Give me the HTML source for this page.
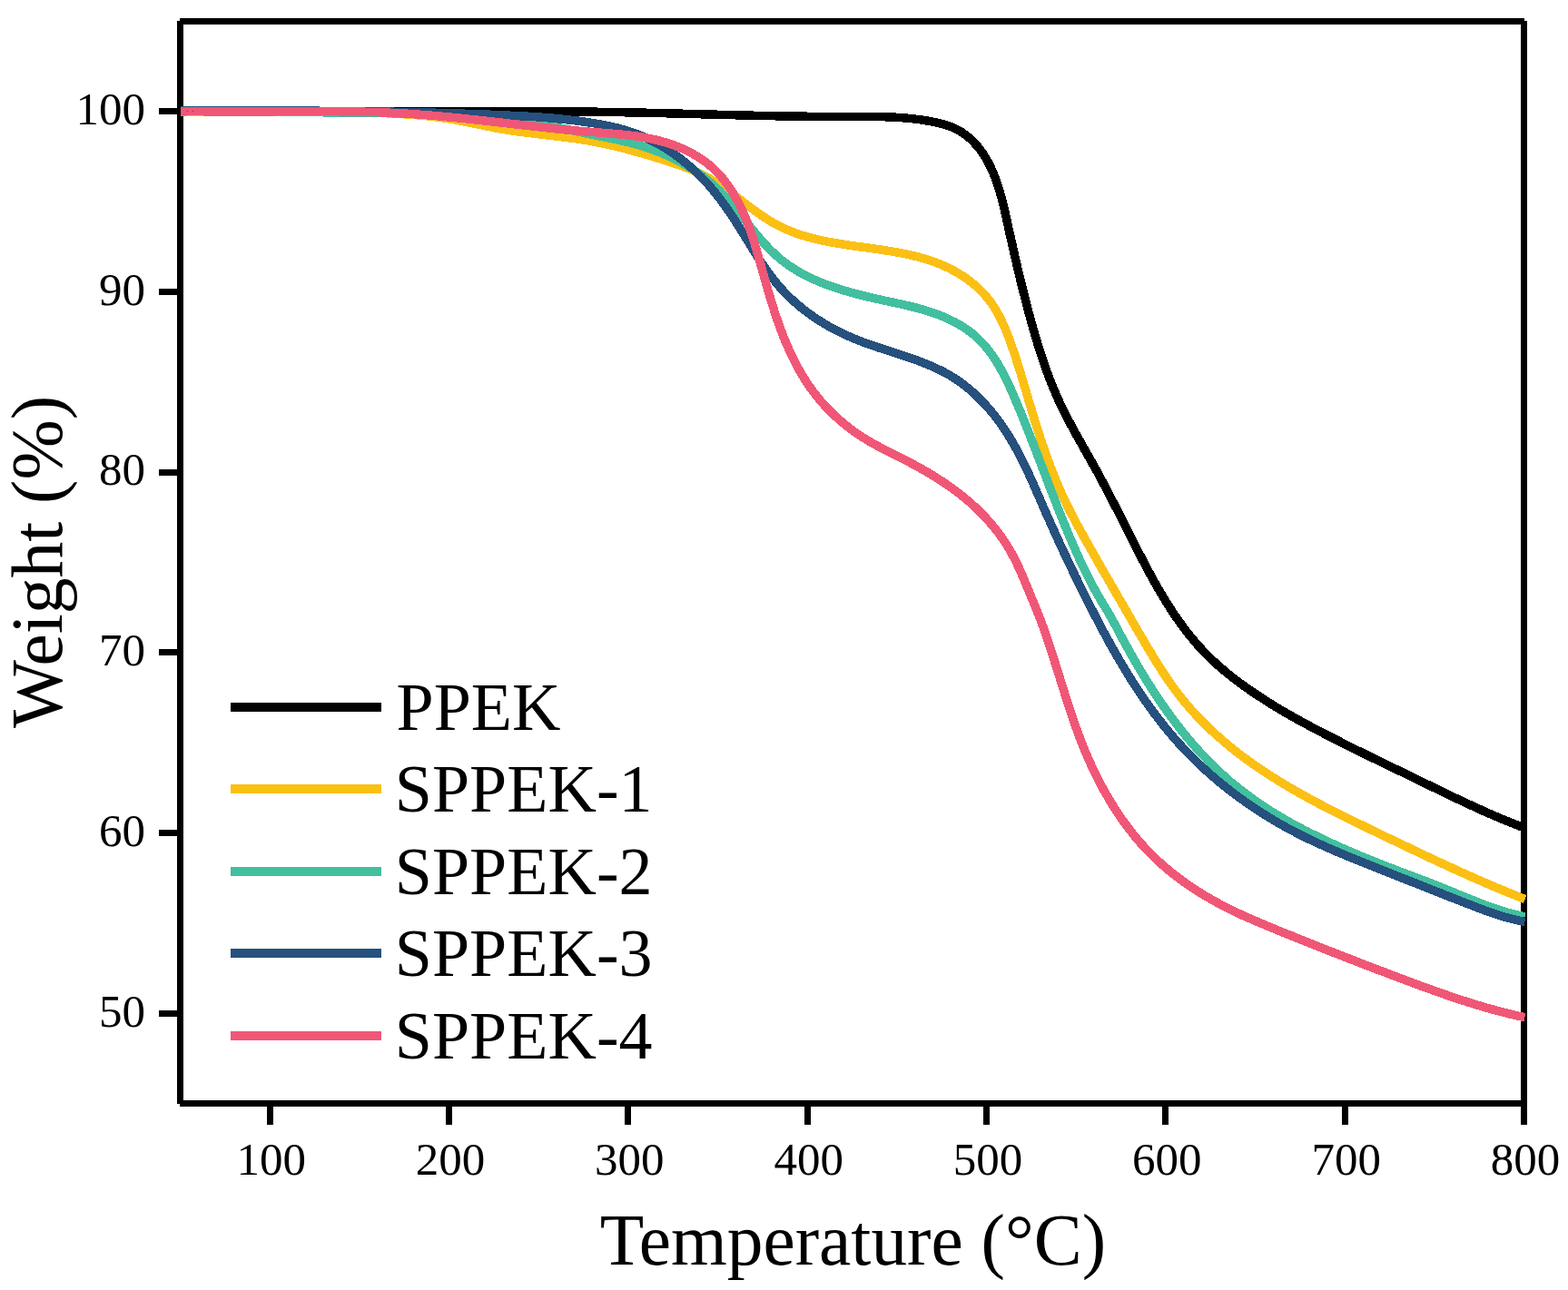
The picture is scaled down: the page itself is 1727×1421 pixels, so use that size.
<!DOCTYPE html>
<html><head><meta charset="utf-8"><title>TGA curves</title>
<style>
html,body{margin:0;padding:0;background:#fff;}
svg{display:block;}
text{font-family:"Liberation Serif",serif;fill:#000;}
</style></head>
<body>
<svg width="1727" height="1421" viewBox="0 0 1727 1421">
<rect width="1727" height="1421" fill="#fff"/>
<g stroke="#000" stroke-width="7" stroke-linecap="butt" shape-rendering="crispEdges">
<line x1="198.5" y1="23" x2="198.5" y2="1216" />
<line x1="1678.5" y1="23" x2="1678.5" y2="1216" />
<line x1="198" y1="23.5" x2="1679" y2="23.5" />
<line x1="198" y1="1215.5" x2="1679" y2="1215.5" />
<line x1="297.2" y1="1215.5" x2="297.2" y2="1239" />
<line x1="494.5" y1="1215.5" x2="494.5" y2="1239" />
<line x1="691.8" y1="1215.5" x2="691.8" y2="1239" />
<line x1="889.2" y1="1215.5" x2="889.2" y2="1239" />
<line x1="1086.5" y1="1215.5" x2="1086.5" y2="1239" />
<line x1="1283.8" y1="1215.5" x2="1283.8" y2="1239" />
<line x1="1481.2" y1="1215.5" x2="1481.2" y2="1239" />
<line x1="1678.5" y1="1215.5" x2="1678.5" y2="1239" />
<line x1="175" y1="1116.5" x2="198.5" y2="1116.5" />
<line x1="175" y1="917.7" x2="198.5" y2="917.7" />
<line x1="175" y1="718.9" x2="198.5" y2="718.9" />
<line x1="175" y1="520.1" x2="198.5" y2="520.1" />
<line x1="175" y1="321.3" x2="198.5" y2="321.3" />
<line x1="175" y1="122.5" x2="198.5" y2="122.5" />
</g>
<g>
<path d="M198.5,122.4 L200.5,122.4 L202.5,122.4 L204.5,122.4 L206.5,122.4 L208.5,122.5 L210.5,122.5 L212.5,122.5 L214.5,122.5 L216.5,122.5 L218.5,122.6 L220.5,122.6 L222.5,122.6 L224.5,122.6 L226.5,122.6 L228.5,122.6 L230.5,122.6 L232.5,122.7 L234.5,122.7 L236.5,122.7 L238.5,122.7 L240.5,122.7 L242.5,122.7 L244.5,122.7 L246.5,122.8 L248.5,122.8 L250.5,122.8 L252.6,122.8 L254.6,122.8 L256.6,122.8 L258.6,122.8 L260.6,122.8 L262.6,122.8 L264.6,122.8 L266.6,122.8 L268.6,122.8 L270.6,122.9 L272.6,122.9 L274.6,122.9 L276.6,122.9 L278.6,122.9 L280.6,122.9 L282.6,122.9 L284.6,122.9 L286.6,122.9 L288.6,122.9 L290.6,122.9 L292.6,122.9 L294.6,122.9 L296.6,122.9 L298.6,122.9 L300.6,122.9 L302.6,122.9 L304.6,122.9 L306.6,122.9 L308.6,122.9 L310.6,122.9 L312.6,122.9 L314.6,122.9 L316.6,122.9 L318.6,122.9 L320.6,122.9 L322.6,122.9 L324.6,122.9 L326.6,122.9 L328.6,122.9 L330.6,122.9 L332.6,122.9 L334.6,122.9 L336.6,122.9 L338.7,122.9 L340.7,122.9 L342.7,122.9 L344.7,122.9 L346.7,122.9 L348.7,122.9 L350.7,122.9 L352.7,122.9 L354.7,122.9 L356.7,122.9 L358.7,122.9 L360.7,122.9 L362.7,122.8 L364.7,122.8 L366.7,122.8 L368.7,122.8 L370.7,122.8 L372.7,122.8 L374.7,122.8 L376.7,122.8 L378.7,122.8 L380.7,122.8 L382.7,122.8 L384.7,122.8 L386.7,122.8 L388.7,122.8 L390.7,122.8 L392.7,122.8 L394.7,122.8 L396.7,122.7 L398.7,122.7 L400.7,122.7 L402.7,122.7 L404.8,122.7 L406.8,122.7 L408.8,122.7 L410.8,122.7 L412.8,122.7 L414.8,122.7 L416.8,122.7 L418.8,122.7 L420.8,122.7 L422.8,122.7 L424.8,122.6 L426.8,122.6 L428.8,122.6 L430.8,122.6 L432.8,122.6 L434.8,122.6 L436.8,122.6 L438.8,122.6 L440.8,122.6 L442.8,122.6 L444.8,122.6 L446.8,122.6 L448.8,122.6 L450.8,122.6 L452.8,122.6 L454.8,122.5 L456.8,122.5 L458.8,122.5 L460.8,122.5 L462.8,122.5 L464.9,122.5 L466.9,122.5 L468.9,122.5 L470.9,122.5 L472.9,122.5 L474.9,122.5 L476.9,122.5 L478.9,122.5 L480.9,122.5 L482.9,122.5 L484.9,122.5 L486.9,122.5 L488.9,122.5 L490.9,122.5 L492.9,122.5 L494.9,122.5 L496.9,122.4 L498.9,122.4 L500.9,122.4 L502.9,122.4 L504.9,122.4 L506.9,122.4 L508.9,122.4 L510.9,122.4 L512.9,122.4 L514.9,122.4 L516.9,122.4 L518.9,122.4 L520.9,122.4 L522.9,122.4 L524.9,122.4 L527.0,122.4 L529.0,122.4 L531.0,122.4 L533.0,122.4 L535.0,122.4 L537.0,122.4 L539.0,122.4 L541.0,122.4 L543.0,122.4 L545.0,122.4 L547.0,122.4 L549.0,122.4 L551.0,122.4 L553.0,122.5 L555.0,122.5 L557.0,122.5 L559.0,122.5 L561.0,122.5 L563.0,122.5 L565.0,122.5 L567.0,122.5 L569.0,122.5 L571.0,122.5 L573.0,122.5 L575.0,122.5 L577.0,122.5 L579.0,122.5 L581.0,122.5 L583.0,122.6 L585.0,122.6 L587.0,122.6 L589.0,122.6 L591.0,122.6 L593.0,122.6 L595.0,122.6 L597.1,122.6 L599.1,122.6 L601.1,122.7 L603.1,122.7 L605.1,122.7 L607.1,122.7 L609.1,122.7 L611.1,122.7 L613.1,122.7 L615.1,122.8 L617.1,122.8 L619.1,122.8 L621.1,122.8 L623.1,122.8 L625.1,122.9 L627.1,122.9 L629.1,122.9 L631.1,122.9 L633.1,122.9 L635.1,123.0 L637.1,123.0 L639.1,123.0 L641.1,123.0 L643.1,123.0 L645.1,123.1 L647.1,123.1 L649.1,123.1 L651.1,123.1 L653.1,123.2 L655.1,123.2 L657.1,123.2 L659.1,123.3 L661.1,123.3 L663.1,123.3 L665.1,123.3 L667.1,123.4 L669.1,123.4 L671.1,123.4 L673.1,123.5 L675.1,123.5 L677.1,123.5 L679.1,123.6 L681.1,123.6 L683.1,123.6 L685.1,123.7 L687.1,123.7 L689.1,123.8 L691.1,123.8 L693.1,123.8 L695.1,123.9 L697.1,123.9 L699.1,124.0 L701.1,124.0 L703.1,124.0 L705.1,124.1 L707.1,124.1 L709.1,124.2 L711.1,124.2 L713.1,124.3 L715.1,124.3 L717.1,124.3 L719.1,124.4 L721.1,124.4 L723.1,124.5 L725.1,124.5 L727.1,124.6 L729.1,124.6 L731.2,124.7 L733.2,124.7 L735.2,124.8 L737.2,124.8 L739.2,124.9 L741.2,124.9 L743.2,125.0 L745.2,125.0 L747.2,125.1 L749.2,125.2 L751.2,125.2 L753.2,125.3 L755.2,125.3 L757.2,125.4 L759.2,125.4 L761.2,125.5 L763.2,125.5 L765.2,125.6 L767.2,125.6 L769.2,125.7 L771.2,125.7 L773.2,125.8 L775.2,125.8 L777.2,125.9 L779.2,126.0 L781.2,126.0 L783.2,126.1 L785.2,126.1 L787.2,126.2 L789.2,126.2 L791.2,126.3 L793.2,126.3 L795.2,126.4 L797.2,126.4 L799.2,126.5 L801.2,126.5 L803.2,126.6 L805.2,126.6 L807.2,126.7 L809.2,126.7 L811.2,126.8 L813.2,126.8 L815.2,126.9 L817.2,126.9 L819.2,127.0 L821.2,127.0 L823.2,127.1 L825.2,127.1 L827.2,127.2 L829.2,127.2 L831.2,127.3 L833.2,127.3 L835.2,127.4 L837.2,127.4 L839.2,127.5 L841.2,127.5 L843.2,127.5 L845.2,127.6 L847.2,127.6 L849.2,127.7 L851.2,127.7 L853.2,127.7 L855.2,127.8 L857.2,127.8 L859.2,127.8 L861.2,127.9 L863.2,127.9 L865.2,127.9 L867.2,128.0 L869.2,128.0 L871.3,128.0 L873.3,128.1 L875.3,128.1 L877.3,128.1 L879.3,128.2 L881.3,128.2 L883.3,128.2 L885.3,128.2 L887.3,128.2 L889.3,128.3 L891.3,128.3 L893.3,128.3 L895.3,128.3 L897.3,128.3 L899.3,128.4 L901.3,128.4 L903.3,128.4 L905.3,128.4 L907.3,128.4 L909.3,128.4 L911.4,128.4 L913.4,128.4 L915.4,128.4 L917.4,128.4 L919.4,128.4 L921.4,128.4 L923.4,128.4 L925.4,128.4 L927.4,128.4 L929.4,128.4 L931.4,128.4 L933.4,128.4 L935.4,128.4 L937.5,128.4 L939.5,128.4 L941.5,128.4 L943.5,128.4 L945.5,128.4 L947.5,128.4 L949.5,128.4 L951.5,128.4 L953.5,128.4 L955.5,128.4 L957.5,128.4 L959.5,128.4 L961.5,128.4 L963.6,128.5 L965.6,128.5 L967.6,128.5 L969.6,128.6 L971.6,128.6 L973.6,128.7 L975.6,128.8 L977.6,128.8 L979.6,128.9 L981.6,129.0 L983.6,129.1 L985.6,129.2 L987.6,129.3 L989.6,129.4 L991.6,129.6 L993.6,129.7 L995.6,129.9 L997.6,130.0 L999.6,130.2 L1001.6,130.4 L1003.6,130.6 L1005.6,130.8 L1007.6,131.1 L1009.6,131.3 L1011.6,131.6 L1013.6,131.8 L1015.6,132.1 L1017.6,132.4 L1019.6,132.7 L1021.5,133.1 L1023.5,133.4 L1025.5,133.8 L1027.5,134.2 L1029.5,134.6 L1031.5,135.0 L1033.5,135.4 L1035.4,135.9 L1037.4,136.4 L1039.3,136.9 L1041.3,137.5 L1043.2,138.1 L1045.1,138.7 L1046.9,139.4 L1048.8,140.1 L1050.6,140.9 L1052.4,141.8 L1054.2,142.7 L1055.9,143.6 L1057.6,144.6 L1059.3,145.7 L1060.9,146.8 L1062.5,147.9 L1064.1,149.1 L1065.6,150.3 L1067.1,151.5 L1068.6,152.8 L1070.0,154.2 L1071.4,155.5 L1072.8,156.9 L1074.1,158.4 L1075.5,159.8 L1076.7,161.3 L1078.0,162.8 L1079.2,164.3 L1080.3,165.9 L1081.5,167.5 L1082.6,169.1 L1083.7,170.7 L1084.7,172.4 L1085.7,174.1 L1086.7,175.8 L1087.7,177.5 L1088.6,179.2 L1089.5,181.0 L1090.4,182.7 L1091.3,184.5 L1092.1,186.3 L1092.9,188.1 L1093.7,190.0 L1094.5,191.8 L1095.2,193.7 L1095.9,195.6 L1096.6,197.5 L1097.3,199.4 L1098.0,201.3 L1098.7,203.2 L1099.3,205.2 L1099.9,207.1 L1100.5,209.1 L1101.1,211.1 L1101.7,213.0 L1102.2,215.0 L1102.8,217.0 L1103.3,219.0 L1103.8,221.0 L1104.3,223.0 L1104.8,225.0 L1105.3,227.0 L1105.8,229.1 L1106.3,231.1 L1106.8,233.1 L1107.2,235.1 L1107.7,237.1 L1108.1,239.2 L1108.6,241.2 L1109.0,243.2 L1109.5,245.2 L1109.9,247.2 L1110.4,249.3 L1110.8,251.3 L1111.2,253.3 L1111.7,255.3 L1112.1,257.3 L1112.6,259.2 L1113.0,261.2 L1113.4,263.2 L1113.9,265.2 L1114.3,267.2 L1114.8,269.1 L1115.2,271.1 L1115.6,273.1 L1116.1,275.0 L1116.5,277.0 L1117.0,278.9 L1117.4,280.9 L1117.9,282.8 L1118.3,284.8 L1118.8,286.7 L1119.2,288.6 L1119.7,290.6 L1120.1,292.5 L1120.6,294.4 L1121.0,296.4 L1121.5,298.3 L1121.9,300.2 L1122.4,302.1 L1122.9,304.1 L1123.3,306.0 L1123.8,307.9 L1124.2,309.8 L1124.7,311.7 L1125.2,313.7 L1125.7,315.6 L1126.1,317.5 L1126.6,319.4 L1127.1,321.3 L1127.6,323.2 L1128.1,325.1 L1128.5,327.0 L1129.0,328.9 L1129.5,330.8 L1130.0,332.7 L1130.5,334.7 L1131.0,336.6 L1131.5,338.5 L1132.0,340.4 L1132.5,342.3 L1133.0,344.2 L1133.6,346.1 L1134.1,348.0 L1134.6,349.9 L1135.1,351.8 L1135.6,353.7 L1136.2,355.7 L1136.7,357.6 L1137.2,359.5 L1137.8,361.4 L1138.3,363.3 L1138.9,365.2 L1139.4,367.2 L1140.0,369.1 L1140.6,371.0 L1141.1,372.9 L1141.7,374.8 L1142.3,376.8 L1142.9,378.7 L1143.5,380.6 L1144.0,382.5 L1144.6,384.4 L1145.3,386.3 L1145.9,388.3 L1146.5,390.2 L1147.1,392.1 L1147.7,394.0 L1148.4,395.9 L1149.0,397.8 L1149.7,399.7 L1150.3,401.6 L1151.0,403.5 L1151.7,405.4 L1152.3,407.3 L1153.0,409.2 L1153.7,411.1 L1154.4,413.0 L1155.1,414.9 L1155.8,416.8 L1156.6,418.6 L1157.3,420.5 L1158.0,422.4 L1158.8,424.3 L1159.5,426.1 L1160.3,428.0 L1161.1,429.8 L1161.9,431.7 L1162.7,433.5 L1163.5,435.4 L1164.3,437.2 L1165.1,439.0 L1165.9,440.9 L1166.8,442.7 L1167.6,444.5 L1168.5,446.3 L1169.3,448.1 L1170.2,449.9 L1171.1,451.7 L1172.0,453.5 L1172.9,455.3 L1173.8,457.1 L1174.7,458.9 L1175.7,460.7 L1176.6,462.5 L1177.5,464.2 L1178.5,466.0 L1179.4,467.8 L1180.4,469.5 L1181.3,471.3 L1182.3,473.1 L1183.2,474.8 L1184.2,476.6 L1185.2,478.3 L1186.1,480.1 L1187.1,481.8 L1188.1,483.6 L1189.1,485.3 L1190.1,487.1 L1191.1,488.8 L1192.0,490.6 L1193.0,492.3 L1194.0,494.1 L1195.0,495.8 L1196.0,497.5 L1197.0,499.3 L1198.0,501.0 L1198.9,502.8 L1199.9,504.5 L1200.9,506.2 L1201.9,508.0 L1202.9,509.7 L1203.8,511.5 L1204.8,513.2 L1205.8,515.0 L1206.8,516.7 L1207.7,518.5 L1208.7,520.2 L1209.6,522.0 L1210.6,523.7 L1211.5,525.5 L1212.5,527.2 L1213.4,529.0 L1214.4,530.8 L1215.3,532.5 L1216.2,534.3 L1217.2,536.0 L1218.1,537.8 L1219.0,539.6 L1219.9,541.3 L1220.9,543.1 L1221.8,544.9 L1222.7,546.6 L1223.6,548.4 L1224.5,550.2 L1225.4,552.0 L1226.3,553.7 L1227.2,555.5 L1228.2,557.3 L1229.1,559.1 L1230.0,560.8 L1230.9,562.6 L1231.8,564.4 L1232.7,566.2 L1233.6,568.0 L1234.5,569.7 L1235.4,571.5 L1236.3,573.3 L1237.2,575.1 L1238.1,576.9 L1239.0,578.7 L1239.9,580.4 L1240.8,582.2 L1241.7,584.0 L1242.6,585.8 L1243.5,587.6 L1244.4,589.4 L1245.3,591.2 L1246.2,593.0 L1247.1,594.7 L1248.0,596.5 L1248.9,598.3 L1249.9,600.1 L1250.8,601.9 L1251.7,603.7 L1252.6,605.5 L1253.5,607.3 L1254.4,609.1 L1255.4,610.9 L1256.3,612.7 L1257.2,614.4 L1258.1,616.2 L1259.1,618.0 L1260.0,619.8 L1260.9,621.6 L1261.9,623.4 L1262.8,625.2 L1263.8,626.9 L1264.7,628.7 L1265.7,630.5 L1266.7,632.3 L1267.6,634.0 L1268.6,635.8 L1269.6,637.6 L1270.5,639.3 L1271.5,641.1 L1272.5,642.8 L1273.5,644.6 L1274.5,646.3 L1275.5,648.1 L1276.5,649.8 L1277.5,651.6 L1278.5,653.3 L1279.6,655.0 L1280.6,656.8 L1281.6,658.5 L1282.7,660.2 L1283.7,661.9 L1284.8,663.6 L1285.9,665.3 L1286.9,667.0 L1288.0,668.7 L1289.1,670.4 L1290.2,672.1 L1291.3,673.8 L1292.4,675.4 L1293.5,677.1 L1294.6,678.7 L1295.8,680.4 L1296.9,682.0 L1298.1,683.7 L1299.2,685.3 L1300.4,686.9 L1301.6,688.5 L1302.7,690.1 L1303.9,691.7 L1305.1,693.3 L1306.3,694.9 L1307.6,696.5 L1308.8,698.1 L1310.0,699.6 L1311.3,701.2 L1312.5,702.7 L1313.8,704.2 L1315.1,705.8 L1316.4,707.3 L1317.7,708.8 L1319.0,710.3 L1320.3,711.8 L1321.7,713.3 L1323.0,714.7 L1324.4,716.2 L1325.7,717.6 L1327.1,719.1 L1328.5,720.5 L1329.9,721.9 L1331.3,723.3 L1332.7,724.7 L1334.2,726.1 L1335.6,727.5 L1337.1,728.8 L1338.6,730.2 L1340.0,731.5 L1341.5,732.9 L1343.0,734.2 L1344.5,735.5 L1346.1,736.8 L1347.6,738.1 L1349.1,739.4 L1350.7,740.7 L1352.2,742.0 L1353.8,743.2 L1355.4,744.5 L1356.9,745.7 L1358.5,747.0 L1360.1,748.2 L1361.7,749.4 L1363.3,750.6 L1364.9,751.8 L1366.5,753.0 L1368.2,754.2 L1369.8,755.4 L1371.4,756.5 L1373.1,757.7 L1374.7,758.9 L1376.3,760.0 L1378.0,761.2 L1379.7,762.3 L1381.3,763.4 L1383.0,764.5 L1384.7,765.6 L1386.3,766.7 L1388.0,767.8 L1389.7,768.9 L1391.4,770.0 L1393.0,771.1 L1394.7,772.2 L1396.4,773.2 L1398.1,774.3 L1399.8,775.4 L1401.5,776.4 L1403.2,777.4 L1404.9,778.5 L1406.6,779.5 L1408.3,780.5 L1410.0,781.6 L1411.7,782.6 L1413.4,783.6 L1415.2,784.6 L1416.9,785.6 L1418.6,786.6 L1420.3,787.6 L1422.1,788.6 L1423.8,789.5 L1425.6,790.5 L1427.3,791.5 L1429.0,792.5 L1430.8,793.4 L1432.5,794.4 L1434.3,795.4 L1436.0,796.3 L1437.8,797.3 L1439.6,798.2 L1441.3,799.2 L1443.1,800.1 L1444.8,801.0 L1446.6,802.0 L1448.4,802.9 L1450.2,803.8 L1451.9,804.8 L1453.7,805.7 L1455.5,806.6 L1457.3,807.5 L1459.0,808.5 L1460.8,809.4 L1462.6,810.3 L1464.4,811.2 L1466.1,812.1 L1467.9,813.0 L1469.7,813.9 L1471.5,814.8 L1473.3,815.7 L1475.1,816.6 L1476.9,817.5 L1478.6,818.4 L1480.4,819.3 L1482.2,820.2 L1484.0,821.1 L1485.8,822.0 L1487.6,822.9 L1489.4,823.8 L1491.2,824.7 L1493.0,825.6 L1494.8,826.5 L1496.6,827.4 L1498.4,828.2 L1500.2,829.1 L1502.0,830.0 L1503.7,830.9 L1505.5,831.8 L1507.3,832.6 L1509.1,833.5 L1510.9,834.4 L1512.7,835.3 L1514.5,836.2 L1516.3,837.0 L1518.1,837.9 L1519.9,838.8 L1521.7,839.7 L1523.5,840.5 L1525.3,841.4 L1527.1,842.3 L1528.9,843.2 L1530.8,844.0 L1532.6,844.9 L1534.4,845.8 L1536.2,846.7 L1538.0,847.5 L1539.8,848.4 L1541.6,849.3 L1543.4,850.1 L1545.2,851.0 L1547.0,851.9 L1548.8,852.8 L1550.6,853.6 L1552.4,854.5 L1554.2,855.4 L1556.0,856.3 L1557.8,857.1 L1559.6,858.0 L1561.4,858.9 L1563.2,859.8 L1565.0,860.6 L1566.8,861.5 L1568.6,862.4 L1570.4,863.3 L1572.2,864.2 L1574.0,865.0 L1575.8,865.9 L1577.6,866.8 L1579.4,867.7 L1581.2,868.5 L1583.0,869.4 L1584.8,870.3 L1586.6,871.2 L1588.4,872.0 L1590.2,872.9 L1592.0,873.8 L1593.8,874.6 L1595.6,875.5 L1597.4,876.4 L1599.2,877.2 L1601.0,878.1 L1602.8,879.0 L1604.7,879.8 L1606.5,880.7 L1608.3,881.5 L1610.1,882.4 L1611.9,883.2 L1613.7,884.1 L1615.5,884.9 L1617.3,885.8 L1619.2,886.6 L1621.0,887.5 L1622.8,888.3 L1624.6,889.1 L1626.4,890.0 L1628.2,890.8 L1630.1,891.6 L1631.9,892.4 L1633.7,893.3 L1635.6,894.1 L1637.4,894.9 L1639.2,895.7 L1641.0,896.5 L1642.9,897.3 L1644.7,898.1 L1646.6,898.9 L1648.4,899.7 L1650.2,900.5 L1652.1,901.2 L1653.9,902.0 L1655.8,902.8 L1657.6,903.6 L1659.5,904.3 L1661.3,905.1 L1663.2,905.8 L1665.0,906.6 L1666.9,907.3 L1668.8,908.1 L1670.6,908.8 L1672.5,909.5 L1674.4,910.2 L1676.2,910.9 L1678.1,911.7 L1680.0,912.4" fill="none" stroke="#000000" stroke-width="9.5" stroke-linejoin="round" stroke-linecap="butt" shape-rendering="crispEdges"/>
<path d="M198.5,122.9 L200.5,122.9 L202.5,123.0 L204.5,123.0 L206.5,123.0 L208.5,123.1 L210.5,123.1 L212.5,123.1 L214.5,123.2 L216.5,123.2 L218.5,123.2 L220.5,123.2 L222.5,123.3 L224.5,123.3 L226.5,123.3 L228.5,123.3 L230.5,123.3 L232.5,123.3 L234.5,123.3 L236.5,123.3 L238.5,123.4 L240.5,123.4 L242.5,123.4 L244.5,123.4 L246.5,123.4 L248.5,123.4 L250.5,123.4 L252.5,123.4 L254.5,123.4 L256.5,123.4 L258.5,123.4 L260.6,123.4 L262.6,123.4 L264.6,123.3 L266.6,123.3 L268.6,123.3 L270.6,123.3 L272.6,123.3 L274.6,123.3 L276.6,123.3 L278.6,123.3 L280.6,123.3 L282.6,123.3 L284.6,123.3 L286.6,123.2 L288.6,123.2 L290.6,123.2 L292.6,123.2 L294.6,123.2 L296.6,123.2 L298.6,123.2 L300.6,123.2 L302.6,123.1 L304.6,123.1 L306.6,123.1 L308.6,123.1 L310.6,123.1 L312.6,123.1 L314.6,123.1 L316.6,123.1 L318.6,123.1 L320.6,123.1 L322.6,123.0 L324.7,123.0 L326.7,123.0 L328.7,123.0 L330.7,123.0 L332.7,123.0 L334.7,123.0 L336.7,123.0 L338.7,123.0 L340.7,123.0 L342.7,123.0 L344.7,123.0 L346.7,123.0 L348.7,123.0 L350.7,123.0 L352.7,123.1 L354.7,123.1 L356.7,123.1 L358.7,123.1 L360.7,123.1 L362.7,123.1 L364.7,123.1 L366.7,123.2 L368.7,123.2 L370.7,123.2 L372.7,123.2 L374.7,123.2 L376.7,123.3 L378.7,123.3 L380.7,123.3 L382.7,123.4 L384.7,123.4 L386.7,123.4 L388.7,123.5 L390.7,123.5 L392.7,123.6 L394.7,123.6 L396.7,123.7 L398.7,123.7 L400.7,123.8 L402.8,123.8 L404.8,123.9 L406.8,124.0 L408.8,124.0 L410.8,124.1 L412.8,124.2 L414.8,124.2 L416.8,124.3 L418.8,124.4 L420.8,124.5 L422.8,124.6 L424.8,124.7 L426.8,124.8 L428.8,124.9 L430.8,125.0 L432.8,125.1 L434.8,125.2 L436.8,125.3 L438.8,125.4 L440.8,125.5 L442.8,125.6 L444.8,125.7 L446.8,125.9 L448.7,126.0 L450.7,126.1 L452.7,126.3 L454.7,126.4 L456.7,126.6 L458.7,126.7 L460.7,126.9 L462.7,127.1 L464.7,127.2 L466.7,127.4 L468.7,127.6 L470.7,127.8 L472.7,128.0 L474.7,128.2 L476.7,128.5 L478.6,128.7 L480.6,128.9 L482.6,129.2 L484.6,129.4 L486.6,129.7 L488.6,130.0 L490.5,130.2 L492.5,130.5 L494.5,130.8 L496.5,131.1 L498.4,131.5 L500.4,131.8 L502.4,132.2 L504.3,132.5 L506.3,132.9 L508.3,133.3 L510.2,133.6 L512.2,134.0 L514.2,134.4 L516.1,134.8 L518.1,135.2 L520.0,135.6 L522.0,136.0 L524.0,136.5 L525.9,136.9 L527.9,137.3 L529.8,137.7 L531.8,138.1 L533.8,138.5 L535.7,138.9 L537.7,139.3 L539.7,139.7 L541.6,140.1 L543.6,140.5 L545.5,140.9 L547.5,141.3 L549.5,141.6 L551.5,142.0 L553.4,142.3 L555.4,142.6 L557.4,143.0 L559.4,143.3 L561.3,143.6 L563.3,143.9 L565.3,144.2 L567.3,144.5 L569.3,144.8 L571.2,145.0 L573.2,145.3 L575.2,145.6 L577.2,145.8 L579.2,146.1 L581.2,146.3 L583.2,146.6 L585.2,146.8 L587.1,147.0 L589.1,147.3 L591.1,147.5 L593.1,147.7 L595.1,148.0 L597.1,148.2 L599.1,148.4 L601.1,148.7 L603.1,148.9 L605.1,149.1 L607.1,149.3 L609.0,149.6 L611.0,149.8 L613.0,150.0 L615.0,150.3 L617.0,150.5 L619.0,150.8 L621.0,151.0 L623.0,151.3 L624.9,151.5 L626.9,151.8 L628.9,152.0 L630.9,152.3 L632.9,152.6 L634.9,152.9 L636.8,153.2 L638.8,153.5 L640.8,153.8 L642.8,154.1 L644.7,154.4 L646.7,154.7 L648.7,155.1 L650.6,155.4 L652.6,155.8 L654.6,156.1 L656.5,156.5 L658.5,156.9 L660.4,157.3 L662.4,157.7 L664.3,158.1 L666.3,158.5 L668.2,158.9 L670.2,159.4 L672.1,159.8 L674.1,160.3 L676.0,160.7 L678.0,161.2 L679.9,161.7 L681.9,162.2 L683.8,162.6 L685.7,163.1 L687.7,163.6 L689.6,164.1 L691.5,164.7 L693.5,165.2 L695.4,165.7 L697.3,166.2 L699.3,166.8 L701.2,167.3 L703.1,167.8 L705.0,168.4 L707.0,168.9 L708.9,169.5 L710.8,170.1 L712.7,170.6 L714.7,171.2 L716.6,171.8 L718.5,172.3 L720.4,172.9 L722.3,173.5 L724.3,174.1 L726.2,174.7 L728.1,175.3 L730.0,175.9 L731.9,176.5 L733.8,177.1 L735.7,177.7 L737.7,178.3 L739.6,178.9 L741.5,179.6 L743.4,180.2 L745.2,180.9 L747.1,181.5 L749.0,182.2 L750.9,182.9 L752.8,183.6 L754.7,184.3 L756.5,185.0 L758.4,185.7 L760.2,186.5 L762.1,187.2 L763.9,188.0 L765.7,188.8 L767.5,189.6 L769.4,190.5 L771.2,191.3 L773.0,192.2 L774.7,193.1 L776.5,194.0 L778.3,194.9 L780.0,195.9 L781.8,196.9 L783.5,197.9 L785.2,198.9 L786.9,199.9 L788.6,201.0 L790.3,202.1 L792.0,203.2 L793.7,204.3 L795.4,205.4 L797.0,206.6 L798.7,207.7 L800.3,208.9 L802.0,210.1 L803.6,211.3 L805.3,212.5 L806.9,213.7 L808.5,214.9 L810.2,216.1 L811.8,217.4 L813.4,218.6 L815.0,219.8 L816.6,221.0 L818.3,222.3 L819.9,223.5 L821.5,224.7 L823.1,226.0 L824.7,227.2 L826.4,228.4 L828.0,229.6 L829.6,230.8 L831.3,232.0 L832.9,233.2 L834.5,234.4 L836.2,235.5 L837.8,236.7 L839.5,237.8 L841.1,238.9 L842.8,240.0 L844.5,241.1 L846.2,242.2 L847.9,243.2 L849.6,244.3 L851.3,245.3 L853.0,246.3 L854.7,247.2 L856.5,248.1 L858.2,249.0 L860.0,249.9 L861.8,250.8 L863.6,251.6 L865.4,252.4 L867.2,253.2 L869.0,253.9 L870.8,254.7 L872.6,255.4 L874.4,256.1 L876.3,256.8 L878.1,257.4 L880.0,258.1 L881.9,258.7 L883.7,259.3 L885.6,259.8 L887.5,260.4 L889.4,261.0 L891.3,261.5 L893.2,262.0 L895.1,262.5 L897.1,263.0 L899.0,263.4 L900.9,263.9 L902.9,264.3 L904.8,264.8 L906.7,265.2 L908.7,265.6 L910.7,266.0 L912.6,266.4 L914.6,266.7 L916.6,267.1 L918.5,267.5 L920.5,267.8 L922.5,268.1 L924.5,268.5 L926.5,268.8 L928.4,269.1 L930.4,269.4 L932.4,269.7 L934.4,270.0 L936.4,270.3 L938.4,270.6 L940.4,270.9 L942.4,271.2 L944.4,271.5 L946.4,271.7 L948.4,272.0 L950.5,272.3 L952.5,272.6 L954.5,272.8 L956.5,273.1 L958.5,273.4 L960.5,273.7 L962.5,274.0 L964.5,274.3 L966.5,274.5 L968.5,274.8 L970.5,275.1 L972.5,275.4 L974.5,275.7 L976.5,276.1 L978.5,276.4 L980.5,276.7 L982.5,277.0 L984.4,277.4 L986.4,277.7 L988.4,278.1 L990.4,278.4 L992.3,278.8 L994.3,279.2 L996.3,279.6 L998.2,280.0 L1000.2,280.4 L1002.1,280.9 L1004.1,281.3 L1006.0,281.8 L1008.0,282.2 L1009.9,282.7 L1011.8,283.2 L1013.7,283.8 L1015.6,284.3 L1017.5,284.8 L1019.4,285.4 L1021.3,286.0 L1023.2,286.6 L1025.1,287.2 L1027.0,287.9 L1028.8,288.5 L1030.7,289.2 L1032.5,289.9 L1034.4,290.6 L1036.2,291.4 L1038.0,292.2 L1039.8,292.9 L1041.6,293.8 L1043.4,294.6 L1045.2,295.5 L1047.0,296.3 L1048.7,297.3 L1050.5,298.2 L1052.2,299.2 L1054.0,300.1 L1055.7,301.2 L1057.4,302.2 L1059.1,303.3 L1060.8,304.4 L1062.5,305.5 L1064.1,306.6 L1065.7,307.8 L1067.4,309.0 L1068.9,310.2 L1070.5,311.4 L1072.1,312.7 L1073.6,314.0 L1075.1,315.3 L1076.6,316.7 L1078.1,318.0 L1079.5,319.4 L1080.9,320.8 L1082.3,322.3 L1083.7,323.7 L1085.0,325.2 L1086.3,326.7 L1087.6,328.3 L1088.8,329.8 L1090.0,331.4 L1091.2,333.0 L1092.4,334.6 L1093.5,336.3 L1094.6,337.9 L1095.7,339.6 L1096.7,341.3 L1097.7,343.0 L1098.7,344.7 L1099.7,346.5 L1100.6,348.3 L1101.5,350.0 L1102.4,351.8 L1103.3,353.6 L1104.2,355.5 L1105.0,357.3 L1105.8,359.1 L1106.6,361.0 L1107.4,362.8 L1108.2,364.7 L1108.9,366.6 L1109.7,368.5 L1110.4,370.4 L1111.1,372.2 L1111.8,374.1 L1112.5,376.0 L1113.2,377.9 L1113.9,379.8 L1114.6,381.8 L1115.2,383.7 L1115.9,385.6 L1116.5,387.5 L1117.2,389.4 L1117.8,391.3 L1118.4,393.2 L1119.1,395.1 L1119.7,397.0 L1120.3,398.9 L1120.9,400.8 L1121.5,402.7 L1122.1,404.7 L1122.7,406.6 L1123.3,408.5 L1123.9,410.4 L1124.4,412.3 L1125.0,414.2 L1125.6,416.1 L1126.2,418.1 L1126.8,420.0 L1127.3,421.9 L1127.9,423.8 L1128.5,425.7 L1129.0,427.6 L1129.6,429.5 L1130.2,431.5 L1130.7,433.4 L1131.3,435.3 L1131.9,437.2 L1132.4,439.1 L1133.0,441.0 L1133.6,443.0 L1134.1,444.9 L1134.7,446.8 L1135.3,448.7 L1135.9,450.6 L1136.4,452.5 L1137.0,454.5 L1137.6,456.4 L1138.2,458.3 L1138.8,460.2 L1139.3,462.1 L1139.9,464.0 L1140.5,465.9 L1141.1,467.9 L1141.7,469.8 L1142.3,471.7 L1142.9,473.6 L1143.6,475.5 L1144.2,477.4 L1144.8,479.3 L1145.4,481.2 L1146.0,483.1 L1146.7,485.0 L1147.3,486.9 L1147.9,488.8 L1148.6,490.7 L1149.2,492.6 L1149.9,494.5 L1150.5,496.4 L1151.2,498.3 L1151.9,500.2 L1152.5,502.1 L1153.2,503.9 L1153.9,505.8 L1154.6,507.7 L1155.3,509.6 L1156.0,511.5 L1156.7,513.3 L1157.4,515.2 L1158.1,517.1 L1158.8,518.9 L1159.6,520.8 L1160.3,522.7 L1161.0,524.5 L1161.8,526.4 L1162.6,528.2 L1163.3,530.1 L1164.1,531.9 L1164.9,533.8 L1165.7,535.6 L1166.5,537.4 L1167.3,539.3 L1168.1,541.1 L1168.9,542.9 L1169.7,544.7 L1170.5,546.5 L1171.4,548.4 L1172.2,550.2 L1173.1,552.0 L1174.0,553.8 L1174.8,555.6 L1175.7,557.4 L1176.6,559.2 L1177.5,560.9 L1178.4,562.7 L1179.3,564.5 L1180.2,566.3 L1181.1,568.1 L1182.1,569.9 L1183.0,571.6 L1183.9,573.4 L1184.9,575.2 L1185.8,576.9 L1186.8,578.7 L1187.7,580.5 L1188.7,582.2 L1189.6,584.0 L1190.6,585.7 L1191.6,587.5 L1192.6,589.2 L1193.5,591.0 L1194.5,592.7 L1195.5,594.5 L1196.5,596.2 L1197.5,598.0 L1198.4,599.7 L1199.4,601.5 L1200.4,603.2 L1201.4,604.9 L1202.4,606.7 L1203.4,608.4 L1204.4,610.2 L1205.4,611.9 L1206.4,613.7 L1207.4,615.4 L1208.4,617.1 L1209.4,618.9 L1210.3,620.6 L1211.3,622.3 L1212.3,624.1 L1213.3,625.8 L1214.3,627.6 L1215.3,629.3 L1216.3,631.0 L1217.3,632.8 L1218.3,634.5 L1219.3,636.2 L1220.3,638.0 L1221.3,639.7 L1222.3,641.4 L1223.3,643.2 L1224.3,644.9 L1225.3,646.6 L1226.3,648.4 L1227.3,650.1 L1228.3,651.8 L1229.3,653.6 L1230.3,655.3 L1231.3,657.0 L1232.3,658.8 L1233.3,660.5 L1234.3,662.2 L1235.3,664.0 L1236.3,665.7 L1237.3,667.4 L1238.3,669.2 L1239.3,670.9 L1240.3,672.6 L1241.3,674.3 L1242.3,676.1 L1243.3,677.8 L1244.3,679.5 L1245.3,681.3 L1246.3,683.0 L1247.3,684.7 L1248.3,686.5 L1249.3,688.2 L1250.3,689.9 L1251.3,691.6 L1252.3,693.4 L1253.3,695.1 L1254.3,696.8 L1255.4,698.5 L1256.4,700.3 L1257.4,702.0 L1258.4,703.7 L1259.4,705.5 L1260.4,707.2 L1261.4,708.9 L1262.4,710.6 L1263.5,712.4 L1264.5,714.1 L1265.5,715.8 L1266.5,717.5 L1267.6,719.2 L1268.6,720.9 L1269.6,722.7 L1270.7,724.4 L1271.7,726.1 L1272.8,727.8 L1273.8,729.5 L1274.9,731.2 L1275.9,732.9 L1277.0,734.6 L1278.1,736.2 L1279.2,737.9 L1280.3,739.6 L1281.3,741.3 L1282.4,742.9 L1283.6,744.6 L1284.7,746.3 L1285.8,747.9 L1286.9,749.6 L1288.1,751.2 L1289.2,752.9 L1290.4,754.5 L1291.5,756.1 L1292.7,757.7 L1293.9,759.4 L1295.1,761.0 L1296.3,762.6 L1297.5,764.2 L1298.7,765.8 L1300.0,767.3 L1301.2,768.9 L1302.5,770.5 L1303.7,772.0 L1305.0,773.6 L1306.3,775.1 L1307.6,776.7 L1308.9,778.2 L1310.2,779.7 L1311.5,781.2 L1312.9,782.7 L1314.2,784.2 L1315.6,785.7 L1316.9,787.2 L1318.3,788.7 L1319.7,790.1 L1321.1,791.6 L1322.5,793.0 L1323.9,794.5 L1325.3,795.9 L1326.7,797.3 L1328.2,798.7 L1329.6,800.1 L1331.0,801.5 L1332.5,802.9 L1334.0,804.3 L1335.4,805.7 L1336.9,807.0 L1338.4,808.4 L1339.9,809.7 L1341.4,811.1 L1342.9,812.4 L1344.4,813.7 L1345.9,815.0 L1347.4,816.3 L1348.9,817.6 L1350.4,818.9 L1352.0,820.2 L1353.5,821.5 L1355.0,822.7 L1356.6,824.0 L1358.2,825.2 L1359.7,826.5 L1361.3,827.7 L1362.9,828.9 L1364.4,830.1 L1366.0,831.4 L1367.6,832.6 L1369.2,833.8 L1370.8,834.9 L1372.4,836.1 L1374.0,837.3 L1375.6,838.5 L1377.3,839.6 L1378.9,840.8 L1380.5,841.9 L1382.1,843.1 L1383.8,844.2 L1385.4,845.3 L1387.1,846.5 L1388.7,847.6 L1390.4,848.7 L1392.0,849.8 L1393.7,850.9 L1395.4,852.0 L1397.1,853.1 L1398.7,854.1 L1400.4,855.2 L1402.1,856.3 L1403.8,857.3 L1405.5,858.4 L1407.2,859.4 L1408.9,860.5 L1410.6,861.5 L1412.3,862.6 L1414.0,863.6 L1415.7,864.6 L1417.4,865.7 L1419.2,866.7 L1420.9,867.7 L1422.6,868.7 L1424.3,869.7 L1426.1,870.7 L1427.8,871.7 L1429.6,872.7 L1431.3,873.7 L1433.0,874.6 L1434.8,875.6 L1436.5,876.6 L1438.3,877.6 L1440.1,878.5 L1441.8,879.5 L1443.6,880.4 L1445.3,881.4 L1447.1,882.3 L1448.9,883.3 L1450.7,884.2 L1452.4,885.2 L1454.2,886.1 L1456.0,887.0 L1457.8,888.0 L1459.5,888.9 L1461.3,889.8 L1463.1,890.7 L1464.9,891.6 L1466.7,892.6 L1468.5,893.5 L1470.3,894.4 L1472.1,895.3 L1473.9,896.2 L1475.6,897.1 L1477.4,898.0 L1479.2,898.9 L1481.0,899.8 L1482.8,900.7 L1484.6,901.6 L1486.4,902.5 L1488.2,903.4 L1490.0,904.2 L1491.9,905.1 L1493.7,906.0 L1495.5,906.9 L1497.3,907.8 L1499.1,908.6 L1500.9,909.5 L1502.7,910.4 L1504.5,911.3 L1506.3,912.1 L1508.1,913.0 L1509.9,913.9 L1511.7,914.8 L1513.5,915.6 L1515.4,916.5 L1517.2,917.4 L1519.0,918.2 L1520.8,919.1 L1522.6,920.0 L1524.4,920.8 L1526.2,921.7 L1528.0,922.6 L1529.8,923.4 L1531.6,924.3 L1533.4,925.2 L1535.2,926.0 L1537.0,926.9 L1538.8,927.8 L1540.6,928.6 L1542.4,929.5 L1544.3,930.3 L1546.1,931.2 L1547.9,932.1 L1549.7,932.9 L1551.5,933.8 L1553.3,934.7 L1555.1,935.5 L1556.9,936.4 L1558.7,937.2 L1560.5,938.1 L1562.3,938.9 L1564.1,939.8 L1565.9,940.7 L1567.7,941.5 L1569.5,942.4 L1571.3,943.2 L1573.1,944.1 L1574.9,944.9 L1576.7,945.8 L1578.5,946.6 L1580.3,947.5 L1582.2,948.3 L1584.0,949.1 L1585.8,950.0 L1587.6,950.8 L1589.4,951.7 L1591.2,952.5 L1593.0,953.3 L1594.8,954.2 L1596.6,955.0 L1598.5,955.8 L1600.3,956.7 L1602.1,957.5 L1603.9,958.3 L1605.7,959.2 L1607.5,960.0 L1609.4,960.8 L1611.2,961.6 L1613.0,962.4 L1614.8,963.3 L1616.6,964.1 L1618.5,964.9 L1620.3,965.7 L1622.1,966.5 L1624.0,967.3 L1625.8,968.1 L1627.6,968.9 L1629.5,969.7 L1631.3,970.5 L1633.1,971.3 L1635.0,972.1 L1636.8,972.9 L1638.6,973.7 L1640.5,974.5 L1642.3,975.3 L1644.2,976.1 L1646.0,976.8 L1647.9,977.6 L1649.7,978.4 L1651.6,979.2 L1653.4,979.9 L1655.3,980.7 L1657.1,981.5 L1659.0,982.2 L1660.8,983.0 L1662.7,983.8 L1664.6,984.5 L1666.4,985.3 L1668.3,986.0 L1670.2,986.8 L1672.0,987.5 L1673.9,988.3 L1675.8,989.0 L1677.7,989.7 L1679.6,990.5" fill="none" stroke="#FBC013" stroke-width="9.5" stroke-linejoin="round" stroke-linecap="butt" shape-rendering="crispEdges"/>
<path d="M198.5,122.8 L200.5,122.8 L202.5,122.8 L204.5,122.8 L206.5,122.7 L208.6,122.7 L210.6,122.7 L212.6,122.7 L214.6,122.7 L216.6,122.7 L218.6,122.7 L220.6,122.7 L222.6,122.6 L224.6,122.6 L226.6,122.6 L228.6,122.6 L230.6,122.6 L232.6,122.6 L234.6,122.6 L236.6,122.6 L238.7,122.6 L240.7,122.6 L242.7,122.6 L244.7,122.6 L246.7,122.6 L248.7,122.6 L250.7,122.6 L252.7,122.6 L254.7,122.7 L256.7,122.7 L258.7,122.7 L260.7,122.7 L262.7,122.7 L264.7,122.7 L266.7,122.7 L268.7,122.7 L270.7,122.7 L272.7,122.8 L274.7,122.8 L276.7,122.8 L278.7,122.8 L280.7,122.8 L282.7,122.8 L284.7,122.9 L286.7,122.9 L288.7,122.9 L290.7,122.9 L292.7,122.9 L294.7,123.0 L296.7,123.0 L298.7,123.0 L300.7,123.0 L302.7,123.0 L304.7,123.1 L306.7,123.1 L308.7,123.1 L310.7,123.1 L312.7,123.2 L314.7,123.2 L316.7,123.2 L318.6,123.2 L320.6,123.3 L322.6,123.3 L324.6,123.3 L326.6,123.3 L328.6,123.4 L330.6,123.4 L332.6,123.4 L334.6,123.5 L336.6,123.5 L338.6,123.5 L340.6,123.5 L342.6,123.6 L344.6,123.6 L346.6,123.6 L348.6,123.7 L350.6,123.7 L352.6,123.7 L354.6,123.7 L356.6,123.8 L358.6,123.8 L360.6,123.8 L362.6,123.9 L364.6,123.9 L366.6,123.9 L368.6,123.9 L370.6,124.0 L372.6,124.0 L374.6,124.0 L376.6,124.0 L378.6,124.1 L380.6,124.1 L382.6,124.1 L384.6,124.2 L386.6,124.2 L388.6,124.2 L390.6,124.2 L392.6,124.3 L394.6,124.3 L396.6,124.3 L398.6,124.3 L400.7,124.4 L402.7,124.4 L404.7,124.4 L406.7,124.4 L408.7,124.5 L410.7,124.5 L412.7,124.5 L414.7,124.5 L416.7,124.6 L418.7,124.6 L420.7,124.6 L422.7,124.6 L424.7,124.7 L426.7,124.7 L428.7,124.7 L430.7,124.7 L432.8,124.8 L434.8,124.8 L436.8,124.8 L438.8,124.8 L440.8,124.9 L442.8,124.9 L444.8,124.9 L446.8,125.0 L448.8,125.0 L450.8,125.1 L452.8,125.1 L454.8,125.1 L456.9,125.2 L458.9,125.2 L460.9,125.3 L462.9,125.3 L464.9,125.4 L466.9,125.4 L468.9,125.5 L470.9,125.5 L472.9,125.6 L474.9,125.7 L476.9,125.7 L478.9,125.8 L480.9,125.9 L482.9,125.9 L485.0,126.0 L487.0,126.1 L489.0,126.2 L491.0,126.2 L493.0,126.3 L495.0,126.4 L497.0,126.5 L499.0,126.6 L501.0,126.7 L503.0,126.8 L505.0,126.9 L507.0,127.0 L509.0,127.1 L511.0,127.3 L513.0,127.4 L515.0,127.5 L517.0,127.6 L519.0,127.8 L521.0,127.9 L523.0,128.0 L525.0,128.2 L527.0,128.3 L529.0,128.5 L531.0,128.6 L533.0,128.8 L535.0,129.0 L537.0,129.1 L539.0,129.3 L541.0,129.5 L542.9,129.7 L544.9,129.9 L546.9,130.1 L548.9,130.3 L550.9,130.5 L552.9,130.7 L554.9,130.9 L556.9,131.1 L558.9,131.4 L560.8,131.6 L562.8,131.8 L564.8,132.1 L566.8,132.3 L568.8,132.6 L570.8,132.8 L572.7,133.1 L574.7,133.4 L576.7,133.7 L578.7,134.0 L580.6,134.3 L582.6,134.5 L584.6,134.9 L586.6,135.2 L588.5,135.5 L590.5,135.8 L592.5,136.1 L594.5,136.5 L596.4,136.8 L598.4,137.2 L600.4,137.5 L602.3,137.9 L604.3,138.3 L606.2,138.7 L608.2,139.1 L610.2,139.4 L612.1,139.8 L614.1,140.2 L616.0,140.6 L618.0,141.1 L620.0,141.5 L621.9,141.9 L623.9,142.3 L625.8,142.7 L627.8,143.1 L629.8,143.6 L631.7,144.0 L633.7,144.4 L635.6,144.8 L637.6,145.2 L639.5,145.6 L641.5,146.1 L643.5,146.5 L645.4,146.9 L647.4,147.3 L649.3,147.7 L651.3,148.1 L653.3,148.5 L655.2,148.9 L657.2,149.3 L659.2,149.7 L661.1,150.1 L663.1,150.4 L665.0,150.8 L667.0,151.2 L669.0,151.6 L670.9,152.0 L672.9,152.4 L674.9,152.8 L676.8,153.2 L678.8,153.7 L680.7,154.1 L682.7,154.5 L684.6,154.9 L686.6,155.4 L688.5,155.9 L690.5,156.3 L692.4,156.8 L694.4,157.3 L696.3,157.8 L698.2,158.3 L700.2,158.8 L702.1,159.4 L704.0,160.0 L706.0,160.5 L707.9,161.1 L709.8,161.7 L711.7,162.4 L713.6,163.0 L715.5,163.6 L717.4,164.3 L719.3,165.0 L721.2,165.7 L723.0,166.4 L724.9,167.1 L726.8,167.9 L728.6,168.6 L730.5,169.4 L732.3,170.2 L734.2,171.0 L736.0,171.8 L737.8,172.7 L739.6,173.5 L741.4,174.4 L743.2,175.3 L745.0,176.2 L746.8,177.1 L748.5,178.1 L750.3,179.0 L752.0,180.0 L753.8,181.0 L755.5,182.0 L757.2,183.0 L758.9,184.0 L760.6,185.1 L762.3,186.1 L764.0,187.2 L765.6,188.3 L767.3,189.4 L768.9,190.6 L770.5,191.7 L772.1,192.9 L773.7,194.1 L775.3,195.3 L776.9,196.5 L778.4,197.7 L780.0,199.0 L781.5,200.3 L783.0,201.5 L784.6,202.8 L786.0,204.2 L787.5,205.5 L789.0,206.9 L790.4,208.2 L791.9,209.6 L793.3,211.0 L794.7,212.5 L796.1,213.9 L797.5,215.4 L798.9,216.8 L800.2,218.3 L801.6,219.8 L802.9,221.3 L804.2,222.8 L805.5,224.4 L806.9,225.9 L808.2,227.5 L809.5,229.0 L810.8,230.6 L812.0,232.1 L813.3,233.7 L814.6,235.3 L815.9,236.9 L817.1,238.4 L818.4,240.0 L819.7,241.6 L821.0,243.2 L822.2,244.8 L823.5,246.4 L824.7,248.0 L826.0,249.5 L827.3,251.1 L828.6,252.7 L829.8,254.3 L831.1,255.8 L832.4,257.4 L833.7,258.9 L835.0,260.5 L836.3,262.0 L837.6,263.5 L838.9,265.0 L840.3,266.5 L841.6,268.0 L842.9,269.5 L844.3,270.9 L845.7,272.4 L847.0,273.8 L848.4,275.2 L849.8,276.6 L851.3,278.0 L852.7,279.4 L854.1,280.7 L855.6,282.0 L857.1,283.3 L858.6,284.6 L860.1,285.9 L861.6,287.1 L863.2,288.3 L864.7,289.5 L866.3,290.6 L867.9,291.8 L869.5,292.9 L871.2,294.0 L872.8,295.1 L874.5,296.1 L876.1,297.2 L877.8,298.2 L879.5,299.2 L881.2,300.2 L883.0,301.1 L884.7,302.1 L886.5,303.0 L888.2,303.9 L890.0,304.8 L891.8,305.7 L893.6,306.5 L895.4,307.4 L897.2,308.2 L899.1,309.0 L900.9,309.8 L902.8,310.5 L904.6,311.3 L906.5,312.1 L908.4,312.8 L910.3,313.5 L912.2,314.2 L914.1,314.9 L916.0,315.6 L917.9,316.2 L919.8,316.9 L921.7,317.5 L923.7,318.1 L925.6,318.7 L927.5,319.3 L929.5,319.9 L931.4,320.5 L933.4,321.1 L935.3,321.6 L937.3,322.2 L939.3,322.7 L941.2,323.3 L943.2,323.8 L945.2,324.3 L947.2,324.8 L949.1,325.3 L951.1,325.8 L953.1,326.3 L955.1,326.8 L957.0,327.2 L959.0,327.7 L961.0,328.2 L962.9,328.6 L964.9,329.1 L966.9,329.5 L968.8,329.9 L970.8,330.4 L972.8,330.8 L974.7,331.2 L976.7,331.6 L978.6,332.1 L980.6,332.5 L982.5,332.9 L984.5,333.3 L986.4,333.7 L988.3,334.2 L990.3,334.6 L992.2,335.0 L994.1,335.4 L996.0,335.9 L997.9,336.3 L999.9,336.8 L1001.8,337.2 L1003.7,337.7 L1005.6,338.1 L1007.5,338.6 L1009.4,339.1 L1011.3,339.6 L1013.2,340.2 L1015.1,340.7 L1017.0,341.2 L1018.9,341.8 L1020.8,342.4 L1022.7,343.0 L1024.6,343.6 L1026.5,344.2 L1028.4,344.9 L1030.3,345.6 L1032.2,346.3 L1034.1,347.0 L1036.0,347.7 L1037.9,348.5 L1039.8,349.3 L1041.6,350.1 L1043.5,350.9 L1045.4,351.8 L1047.2,352.7 L1049.0,353.6 L1050.9,354.5 L1052.7,355.4 L1054.4,356.4 L1056.2,357.4 L1058.0,358.5 L1059.7,359.5 L1061.4,360.6 L1063.1,361.7 L1064.8,362.8 L1066.4,364.0 L1068.0,365.2 L1069.6,366.4 L1071.2,367.6 L1072.7,368.9 L1074.2,370.2 L1075.7,371.5 L1077.1,372.9 L1078.5,374.3 L1079.9,375.7 L1081.3,377.1 L1082.6,378.5 L1083.9,380.0 L1085.2,381.5 L1086.5,383.0 L1087.7,384.5 L1088.9,386.1 L1090.1,387.7 L1091.3,389.3 L1092.5,390.9 L1093.6,392.5 L1094.7,394.1 L1095.8,395.8 L1096.9,397.5 L1098.0,399.2 L1099.0,400.9 L1100.0,402.6 L1101.0,404.3 L1102.0,406.1 L1103.0,407.8 L1104.0,409.6 L1104.9,411.4 L1105.8,413.2 L1106.8,415.0 L1107.7,416.8 L1108.6,418.6 L1109.4,420.4 L1110.3,422.2 L1111.2,424.1 L1112.0,425.9 L1112.9,427.8 L1113.7,429.6 L1114.5,431.5 L1115.3,433.3 L1116.2,435.2 L1117.0,437.1 L1117.8,438.9 L1118.5,440.8 L1119.3,442.7 L1120.1,444.5 L1120.9,446.4 L1121.7,448.3 L1122.4,450.1 L1123.2,452.0 L1124.0,453.8 L1124.7,455.7 L1125.5,457.6 L1126.2,459.4 L1127.0,461.3 L1127.7,463.1 L1128.5,465.0 L1129.2,466.8 L1130.0,468.7 L1130.7,470.5 L1131.5,472.4 L1132.2,474.2 L1132.9,476.1 L1133.6,477.9 L1134.4,479.8 L1135.1,481.6 L1135.8,483.5 L1136.5,485.3 L1137.3,487.2 L1138.0,489.0 L1138.7,490.9 L1139.4,492.7 L1140.1,494.6 L1140.9,496.4 L1141.6,498.3 L1142.3,500.1 L1143.0,502.0 L1143.7,503.8 L1144.4,505.7 L1145.1,507.6 L1145.9,509.4 L1146.6,511.3 L1147.3,513.1 L1148.0,515.0 L1148.7,516.8 L1149.4,518.7 L1150.1,520.6 L1150.8,522.4 L1151.5,524.3 L1152.3,526.2 L1153.0,528.0 L1153.7,529.9 L1154.4,531.8 L1155.1,533.6 L1155.8,535.5 L1156.6,537.4 L1157.3,539.2 L1158.0,541.1 L1158.7,543.0 L1159.4,544.9 L1160.2,546.7 L1160.9,548.6 L1161.6,550.5 L1162.4,552.3 L1163.1,554.2 L1163.8,556.1 L1164.6,558.0 L1165.3,559.8 L1166.0,561.7 L1166.8,563.6 L1167.5,565.4 L1168.3,567.3 L1169.0,569.2 L1169.8,571.1 L1170.5,572.9 L1171.3,574.8 L1172.0,576.6 L1172.8,578.5 L1173.6,580.4 L1174.3,582.2 L1175.1,584.1 L1175.9,585.9 L1176.6,587.8 L1177.4,589.7 L1178.2,591.5 L1179.0,593.4 L1179.8,595.2 L1180.6,597.0 L1181.4,598.9 L1182.2,600.7 L1183.0,602.6 L1183.8,604.4 L1184.6,606.2 L1185.4,608.1 L1186.2,609.9 L1187.0,611.7 L1187.9,613.5 L1188.7,615.4 L1189.5,617.2 L1190.4,619.0 L1191.2,620.8 L1192.1,622.6 L1192.9,624.4 L1193.8,626.2 L1194.7,628.0 L1195.5,629.8 L1196.4,631.6 L1197.3,633.4 L1198.2,635.1 L1199.1,636.9 L1200.0,638.7 L1200.9,640.5 L1201.8,642.2 L1202.8,644.0 L1203.7,645.7 L1204.7,647.5 L1205.6,649.2 L1206.6,651.0 L1207.6,652.7 L1208.5,654.5 L1209.5,656.2 L1210.5,657.9 L1211.5,659.7 L1212.6,661.4 L1213.6,663.1 L1214.6,664.8 L1215.7,666.5 L1216.7,668.2 L1217.7,669.9 L1218.8,671.6 L1219.8,673.4 L1220.8,675.1 L1221.8,676.8 L1222.8,678.5 L1223.8,680.3 L1224.8,682.0 L1225.7,683.8 L1226.7,685.5 L1227.7,687.3 L1228.6,689.0 L1229.5,690.8 L1230.5,692.5 L1231.4,694.3 L1232.3,696.1 L1233.3,697.8 L1234.2,699.6 L1235.2,701.3 L1236.1,703.1 L1237.0,704.9 L1238.0,706.6 L1238.9,708.4 L1239.9,710.1 L1240.9,711.9 L1241.8,713.6 L1242.8,715.4 L1243.8,717.1 L1244.8,718.9 L1245.7,720.6 L1246.7,722.4 L1247.7,724.1 L1248.7,725.8 L1249.7,727.6 L1250.7,729.3 L1251.7,731.1 L1252.7,732.8 L1253.7,734.5 L1254.8,736.2 L1255.8,738.0 L1256.8,739.7 L1257.8,741.4 L1258.9,743.1 L1259.9,744.8 L1261.0,746.6 L1262.0,748.3 L1263.1,750.0 L1264.1,751.7 L1265.2,753.4 L1266.3,755.1 L1267.4,756.8 L1268.4,758.5 L1269.5,760.1 L1270.6,761.8 L1271.7,763.5 L1272.8,765.2 L1273.9,766.9 L1275.0,768.5 L1276.1,770.2 L1277.3,771.8 L1278.4,773.5 L1279.5,775.2 L1280.7,776.8 L1281.8,778.5 L1283.0,780.1 L1284.1,781.7 L1285.3,783.4 L1286.5,785.0 L1287.6,786.6 L1288.8,788.2 L1290.0,789.9 L1291.2,791.5 L1292.4,793.1 L1293.6,794.7 L1294.8,796.3 L1296.0,797.9 L1297.2,799.4 L1298.5,801.0 L1299.7,802.6 L1300.9,804.2 L1302.2,805.7 L1303.4,807.3 L1304.7,808.8 L1306.0,810.4 L1307.2,811.9 L1308.5,813.5 L1309.8,815.0 L1311.1,816.5 L1312.4,818.0 L1313.7,819.6 L1315.0,821.1 L1316.3,822.6 L1317.6,824.1 L1319.0,825.5 L1320.3,827.0 L1321.7,828.5 L1323.0,830.0 L1324.4,831.4 L1325.8,832.9 L1327.1,834.3 L1328.5,835.8 L1329.9,837.2 L1331.3,838.6 L1332.7,840.1 L1334.1,841.5 L1335.5,842.9 L1337.0,844.3 L1338.4,845.7 L1339.8,847.1 L1341.3,848.4 L1342.8,849.8 L1344.2,851.2 L1345.7,852.5 L1347.2,853.9 L1348.7,855.2 L1350.2,856.5 L1351.7,857.9 L1353.2,859.2 L1354.7,860.5 L1356.2,861.8 L1357.8,863.1 L1359.3,864.4 L1360.9,865.6 L1362.4,866.9 L1364.0,868.2 L1365.6,869.4 L1367.2,870.6 L1368.8,871.9 L1370.4,873.1 L1372.0,874.3 L1373.6,875.5 L1375.2,876.7 L1376.8,877.9 L1378.5,879.1 L1380.1,880.3 L1381.8,881.4 L1383.4,882.6 L1385.1,883.7 L1386.7,884.9 L1388.4,886.0 L1390.1,887.1 L1391.7,888.2 L1393.4,889.3 L1395.1,890.4 L1396.8,891.5 L1398.5,892.6 L1400.2,893.7 L1401.9,894.7 L1403.6,895.8 L1405.3,896.8 L1407.0,897.9 L1408.7,898.9 L1410.4,899.9 L1412.1,900.9 L1413.8,901.9 L1415.6,902.9 L1417.3,903.9 L1419.0,904.9 L1420.7,905.8 L1422.4,906.8 L1424.2,907.7 L1425.9,908.7 L1427.6,909.6 L1429.3,910.5 L1431.1,911.5 L1432.8,912.4 L1434.5,913.3 L1436.2,914.2 L1438.0,915.1 L1439.7,915.9 L1441.4,916.8 L1443.2,917.7 L1444.9,918.6 L1446.7,919.4 L1448.4,920.3 L1450.2,921.1 L1451.9,922.0 L1453.7,922.8 L1455.5,923.7 L1457.3,924.5 L1459.0,925.4 L1460.8,926.2 L1462.6,927.0 L1464.4,927.9 L1466.2,928.7 L1468.0,929.5 L1469.8,930.3 L1471.6,931.2 L1473.4,932.0 L1475.2,932.8 L1477.0,933.6 L1478.8,934.4 L1480.6,935.2 L1482.5,936.0 L1484.3,936.8 L1486.1,937.6 L1487.9,938.4 L1489.8,939.1 L1491.6,939.9 L1493.4,940.7 L1495.3,941.5 L1497.1,942.2 L1498.9,943.0 L1500.8,943.8 L1502.6,944.5 L1504.5,945.3 L1506.3,946.0 L1508.1,946.8 L1510.0,947.5 L1511.8,948.3 L1513.7,949.0 L1515.5,949.8 L1517.4,950.5 L1519.2,951.2 L1521.0,952.0 L1522.9,952.7 L1524.7,953.4 L1526.6,954.1 L1528.4,954.9 L1530.3,955.6 L1532.1,956.3 L1534.0,957.0 L1535.8,957.7 L1537.6,958.4 L1539.5,959.1 L1541.3,959.8 L1543.1,960.5 L1545.0,961.2 L1546.8,961.9 L1548.6,962.6 L1550.5,963.3 L1552.3,963.9 L1554.1,964.6 L1555.9,965.3 L1557.8,966.0 L1559.6,966.6 L1561.4,967.3 L1563.2,968.0 L1565.1,968.7 L1566.9,969.4 L1568.7,970.1 L1570.5,970.8 L1572.4,971.4 L1574.2,972.2 L1576.0,972.9 L1577.9,973.6 L1579.7,974.3 L1581.5,975.0 L1583.4,975.8 L1585.2,976.5 L1587.1,977.2 L1588.9,978.0 L1590.8,978.7 L1592.6,979.5 L1594.5,980.3 L1596.3,981.0 L1598.2,981.8 L1600.0,982.6 L1601.9,983.3 L1603.8,984.1 L1605.6,984.9 L1607.5,985.6 L1609.3,986.4 L1611.2,987.2 L1613.1,987.9 L1614.9,988.7 L1616.8,989.4 L1618.7,990.2 L1620.5,991.0 L1622.4,991.7 L1624.2,992.4 L1626.1,993.2 L1628.0,993.9 L1629.8,994.7 L1631.7,995.4 L1633.6,996.1 L1635.4,996.8 L1637.3,997.5 L1639.2,998.2 L1641.1,998.9 L1643.0,999.6 L1644.8,1000.2 L1646.7,1000.9 L1648.6,1001.5 L1650.5,1002.1 L1652.4,1002.8 L1654.3,1003.4 L1656.2,1004.0 L1658.1,1004.5 L1660.1,1005.1 L1662.0,1005.7 L1663.9,1006.2 L1665.8,1006.7 L1667.8,1007.2 L1669.7,1007.7 L1671.7,1008.2 L1673.6,1008.6 L1675.6,1009.1 L1677.6,1009.5 L1679.5,1009.9" fill="none" stroke="#42BF9F" stroke-width="9.5" stroke-linejoin="round" stroke-linecap="butt" shape-rendering="crispEdges"/>
<path d="M198.5,121.8 L200.5,121.8 L202.5,121.8 L204.5,121.8 L206.5,121.8 L208.5,121.8 L210.5,121.8 L212.5,121.8 L214.5,121.8 L216.5,121.8 L218.5,121.8 L220.5,121.8 L222.5,121.8 L224.5,121.8 L226.5,121.8 L228.6,121.8 L230.6,121.8 L232.6,121.8 L234.6,121.8 L236.6,121.8 L238.6,121.8 L240.6,121.8 L242.6,121.8 L244.6,121.9 L246.6,121.9 L248.6,121.9 L250.6,121.9 L252.6,121.9 L254.6,121.9 L256.6,121.9 L258.6,121.9 L260.6,121.9 L262.6,121.9 L264.6,121.9 L266.6,121.9 L268.6,121.9 L270.6,121.9 L272.6,121.9 L274.6,121.9 L276.6,121.9 L278.6,121.9 L280.6,121.9 L282.6,121.9 L284.6,121.9 L286.6,121.9 L288.7,121.9 L290.7,122.0 L292.7,122.0 L294.7,122.0 L296.7,122.0 L298.7,122.0 L300.7,122.0 L302.7,122.0 L304.7,122.0 L306.7,122.0 L308.7,122.0 L310.7,122.0 L312.7,122.0 L314.7,122.0 L316.7,122.0 L318.7,122.1 L320.7,122.1 L322.7,122.1 L324.7,122.1 L326.7,122.1 L328.7,122.1 L330.7,122.1 L332.7,122.1 L334.7,122.1 L336.7,122.1 L338.7,122.2 L340.7,122.2 L342.7,122.2 L344.7,122.2 L346.7,122.2 L348.7,122.2 L350.7,122.2 L352.7,122.3 L354.7,122.3 L356.7,122.3 L358.7,122.3 L360.7,122.3 L362.7,122.3 L364.7,122.3 L366.7,122.4 L368.7,122.4 L370.7,122.4 L372.7,122.4 L374.7,122.4 L376.7,122.5 L378.7,122.5 L380.7,122.5 L382.7,122.5 L384.7,122.5 L386.7,122.6 L388.7,122.6 L390.7,122.6 L392.7,122.6 L394.7,122.7 L396.8,122.7 L398.8,122.7 L400.8,122.7 L402.8,122.8 L404.8,122.8 L406.8,122.8 L408.8,122.8 L410.8,122.9 L412.8,122.9 L414.8,122.9 L416.8,123.0 L418.8,123.0 L420.8,123.0 L422.8,123.1 L424.8,123.1 L426.8,123.1 L428.8,123.2 L430.8,123.2 L432.8,123.2 L434.8,123.3 L436.8,123.3 L438.8,123.3 L440.8,123.4 L442.8,123.4 L444.8,123.4 L446.8,123.5 L448.8,123.5 L450.8,123.6 L452.8,123.6 L454.8,123.7 L456.8,123.7 L458.8,123.7 L460.8,123.8 L462.8,123.8 L464.8,123.9 L466.8,123.9 L468.8,124.0 L470.8,124.0 L472.8,124.1 L474.8,124.1 L476.8,124.2 L478.8,124.2 L480.8,124.3 L482.8,124.3 L484.8,124.4 L486.8,124.5 L488.8,124.5 L490.8,124.6 L492.8,124.6 L494.8,124.7 L496.8,124.7 L498.8,124.8 L500.8,124.9 L502.8,124.9 L504.8,125.0 L506.8,125.1 L508.8,125.1 L510.8,125.2 L512.8,125.3 L514.8,125.3 L516.9,125.4 L518.9,125.5 L520.9,125.5 L522.9,125.6 L524.9,125.7 L526.9,125.7 L528.9,125.8 L530.9,125.9 L532.9,126.0 L534.9,126.1 L536.9,126.1 L538.9,126.2 L540.9,126.3 L542.9,126.4 L544.9,126.5 L546.9,126.5 L548.9,126.6 L550.9,126.7 L552.9,126.8 L554.9,126.9 L556.9,127.0 L558.9,127.1 L560.9,127.2 L562.9,127.3 L564.9,127.4 L566.9,127.5 L568.9,127.6 L570.9,127.7 L572.9,127.8 L574.9,127.9 L576.9,128.0 L578.9,128.1 L580.9,128.2 L582.9,128.3 L584.9,128.5 L586.9,128.6 L588.9,128.7 L590.9,128.8 L592.9,129.0 L594.9,129.1 L596.9,129.3 L598.9,129.4 L600.9,129.6 L602.9,129.7 L604.9,129.9 L606.9,130.1 L608.9,130.2 L610.9,130.4 L612.9,130.6 L614.9,130.8 L616.9,131.0 L618.9,131.2 L620.9,131.4 L622.9,131.6 L624.9,131.8 L626.9,132.0 L628.8,132.3 L630.8,132.5 L632.8,132.7 L634.8,133.0 L636.8,133.2 L638.8,133.5 L640.8,133.8 L642.8,134.0 L644.7,134.3 L646.7,134.6 L648.7,134.9 L650.7,135.2 L652.7,135.5 L654.6,135.8 L656.6,136.2 L658.6,136.5 L660.6,136.9 L662.5,137.2 L664.5,137.6 L666.5,138.0 L668.4,138.4 L670.4,138.8 L672.3,139.2 L674.3,139.6 L676.2,140.1 L678.2,140.6 L680.1,141.0 L682.0,141.5 L684.0,142.1 L685.9,142.6 L687.8,143.1 L689.7,143.7 L691.6,144.3 L693.5,144.9 L695.4,145.5 L697.3,146.2 L699.1,146.9 L701.0,147.6 L702.9,148.3 L704.7,149.0 L706.6,149.8 L708.4,150.5 L710.2,151.3 L712.0,152.2 L713.8,153.0 L715.6,153.9 L717.4,154.7 L719.2,155.6 L721.0,156.6 L722.7,157.5 L724.5,158.5 L726.2,159.4 L728.0,160.4 L729.7,161.5 L731.4,162.5 L733.1,163.5 L734.8,164.6 L736.5,165.7 L738.2,166.8 L739.8,167.9 L741.5,169.1 L743.1,170.2 L744.8,171.4 L746.4,172.6 L748.0,173.8 L749.6,175.0 L751.2,176.2 L752.8,177.5 L754.3,178.7 L755.9,180.0 L757.4,181.3 L759.0,182.6 L760.5,183.9 L762.0,185.3 L763.5,186.6 L764.9,188.0 L766.4,189.3 L767.9,190.7 L769.3,192.1 L770.7,193.5 L772.2,194.9 L773.6,196.4 L774.9,197.8 L776.3,199.3 L777.7,200.7 L779.0,202.2 L780.4,203.7 L781.7,205.2 L783.0,206.7 L784.3,208.2 L785.5,209.8 L786.8,211.3 L788.1,212.8 L789.3,214.4 L790.5,215.9 L791.7,217.5 L792.9,219.1 L794.1,220.7 L795.3,222.3 L796.5,223.9 L797.7,225.5 L798.8,227.1 L800.0,228.7 L801.1,230.4 L802.2,232.0 L803.3,233.6 L804.5,235.3 L805.6,236.9 L806.7,238.6 L807.8,240.3 L808.9,242.0 L810.0,243.6 L811.0,245.3 L812.1,247.0 L813.2,248.7 L814.3,250.4 L815.3,252.1 L816.4,253.8 L817.5,255.5 L818.5,257.2 L819.6,258.9 L820.6,260.7 L821.7,262.4 L822.8,264.1 L823.8,265.8 L824.9,267.5 L825.9,269.3 L827.0,271.0 L828.1,272.7 L829.1,274.4 L830.2,276.2 L831.3,277.9 L832.4,279.6 L833.4,281.3 L834.5,283.0 L835.6,284.7 L836.7,286.4 L837.8,288.1 L839.0,289.8 L840.1,291.4 L841.2,293.1 L842.4,294.8 L843.5,296.4 L844.7,298.1 L845.8,299.7 L847.0,301.3 L848.2,302.9 L849.4,304.5 L850.6,306.1 L851.9,307.7 L853.1,309.3 L854.3,310.8 L855.6,312.3 L856.9,313.9 L858.2,315.4 L859.5,316.9 L860.8,318.4 L862.2,319.8 L863.5,321.3 L864.9,322.7 L866.3,324.1 L867.7,325.5 L869.1,326.9 L870.5,328.3 L872.0,329.7 L873.4,331.0 L874.9,332.3 L876.4,333.7 L877.9,335.0 L879.4,336.2 L880.9,337.5 L882.4,338.8 L883.9,340.0 L885.5,341.3 L887.1,342.5 L888.7,343.7 L890.2,344.9 L891.8,346.0 L893.5,347.2 L895.1,348.3 L896.7,349.4 L898.4,350.6 L900.0,351.7 L901.7,352.7 L903.4,353.8 L905.1,354.9 L906.7,355.9 L908.5,356.9 L910.2,357.9 L911.9,358.9 L913.6,359.9 L915.4,360.9 L917.1,361.9 L918.9,362.8 L920.7,363.7 L922.5,364.6 L924.2,365.5 L926.0,366.4 L927.8,367.3 L929.7,368.2 L931.5,369.0 L933.3,369.8 L935.1,370.6 L937.0,371.4 L938.8,372.2 L940.7,373.0 L942.5,373.8 L944.4,374.5 L946.3,375.3 L948.2,376.0 L950.1,376.7 L951.9,377.4 L953.8,378.1 L955.7,378.8 L957.6,379.4 L959.6,380.1 L961.5,380.8 L963.4,381.4 L965.3,382.1 L967.2,382.7 L969.1,383.4 L971.1,384.0 L973.0,384.6 L974.9,385.2 L976.8,385.9 L978.7,386.5 L980.7,387.1 L982.6,387.7 L984.5,388.4 L986.4,389.0 L988.4,389.6 L990.3,390.2 L992.2,390.9 L994.1,391.5 L996.0,392.1 L997.9,392.8 L999.8,393.4 L1001.7,394.1 L1003.6,394.7 L1005.5,395.4 L1007.4,396.1 L1009.3,396.7 L1011.2,397.4 L1013.1,398.1 L1014.9,398.9 L1016.8,399.6 L1018.6,400.3 L1020.5,401.1 L1022.3,401.8 L1024.2,402.6 L1026.0,403.4 L1027.8,404.2 L1029.6,405.0 L1031.4,405.8 L1033.2,406.7 L1035.0,407.5 L1036.7,408.4 L1038.5,409.3 L1040.3,410.2 L1042.0,411.2 L1043.7,412.1 L1045.4,413.1 L1047.1,414.1 L1048.8,415.2 L1050.5,416.2 L1052.2,417.3 L1053.8,418.4 L1055.5,419.5 L1057.1,420.6 L1058.7,421.8 L1060.3,423.0 L1061.9,424.2 L1063.4,425.4 L1065.0,426.7 L1066.5,427.9 L1068.1,429.2 L1069.6,430.5 L1071.1,431.8 L1072.6,433.2 L1074.1,434.5 L1075.5,435.9 L1077.0,437.3 L1078.4,438.7 L1079.8,440.1 L1081.3,441.6 L1082.6,443.0 L1084.0,444.5 L1085.4,446.0 L1086.7,447.5 L1088.1,449.0 L1089.4,450.5 L1090.7,452.0 L1092.0,453.6 L1093.3,455.2 L1094.6,456.7 L1095.8,458.3 L1097.1,459.9 L1098.3,461.5 L1099.5,463.1 L1100.7,464.8 L1101.9,466.4 L1103.0,468.1 L1104.2,469.7 L1105.3,471.4 L1106.4,473.0 L1107.5,474.7 L1108.6,476.4 L1109.7,478.1 L1110.8,479.8 L1111.8,481.5 L1112.9,483.2 L1113.9,485.0 L1114.9,486.7 L1115.9,488.4 L1116.9,490.2 L1117.9,491.9 L1118.9,493.7 L1119.8,495.4 L1120.8,497.2 L1121.7,498.9 L1122.6,500.7 L1123.6,502.5 L1124.5,504.3 L1125.4,506.1 L1126.3,507.9 L1127.2,509.7 L1128.1,511.5 L1128.9,513.3 L1129.8,515.1 L1130.7,516.9 L1131.5,518.7 L1132.4,520.5 L1133.2,522.3 L1134.0,524.1 L1134.9,526.0 L1135.7,527.8 L1136.5,529.6 L1137.3,531.4 L1138.2,533.3 L1139.0,535.1 L1139.8,536.9 L1140.6,538.8 L1141.4,540.6 L1142.2,542.5 L1143.0,544.3 L1143.8,546.1 L1144.6,548.0 L1145.4,549.8 L1146.2,551.6 L1147.0,553.5 L1147.8,555.3 L1148.6,557.2 L1149.4,559.0 L1150.2,560.8 L1151.0,562.7 L1151.8,564.5 L1152.6,566.3 L1153.4,568.1 L1154.2,570.0 L1155.1,571.8 L1155.9,573.6 L1156.7,575.4 L1157.5,577.3 L1158.3,579.1 L1159.1,580.9 L1160.0,582.7 L1160.8,584.5 L1161.6,586.4 L1162.4,588.2 L1163.3,590.0 L1164.1,591.8 L1164.9,593.6 L1165.7,595.4 L1166.6,597.2 L1167.4,599.1 L1168.3,600.9 L1169.1,602.7 L1169.9,604.5 L1170.8,606.3 L1171.6,608.1 L1172.5,609.9 L1173.3,611.7 L1174.2,613.5 L1175.0,615.3 L1175.9,617.1 L1176.7,618.9 L1177.6,620.7 L1178.4,622.5 L1179.3,624.3 L1180.2,626.1 L1181.0,627.9 L1181.9,629.7 L1182.8,631.5 L1183.6,633.3 L1184.5,635.1 L1185.4,636.9 L1186.3,638.7 L1187.1,640.5 L1188.0,642.3 L1188.9,644.1 L1189.8,645.9 L1190.7,647.7 L1191.6,649.4 L1192.4,651.2 L1193.3,653.0 L1194.2,654.8 L1195.1,656.6 L1196.0,658.4 L1196.9,660.2 L1197.8,662.0 L1198.7,663.8 L1199.6,665.6 L1200.5,667.3 L1201.4,669.1 L1202.4,670.9 L1203.3,672.7 L1204.2,674.5 L1205.1,676.3 L1206.0,678.1 L1207.0,679.8 L1207.9,681.6 L1208.8,683.4 L1209.7,685.2 L1210.7,687.0 L1211.6,688.8 L1212.6,690.5 L1213.5,692.3 L1214.4,694.1 L1215.4,695.9 L1216.4,697.6 L1217.3,699.4 L1218.3,701.2 L1219.2,702.9 L1220.2,704.7 L1221.2,706.5 L1222.1,708.2 L1223.1,710.0 L1224.1,711.7 L1225.1,713.5 L1226.1,715.2 L1227.1,717.0 L1228.1,718.7 L1229.0,720.5 L1230.1,722.2 L1231.1,724.0 L1232.1,725.7 L1233.1,727.5 L1234.1,729.2 L1235.1,730.9 L1236.2,732.6 L1237.2,734.4 L1238.2,736.1 L1239.3,737.8 L1240.3,739.5 L1241.4,741.2 L1242.4,743.0 L1243.5,744.7 L1244.5,746.4 L1245.6,748.1 L1246.7,749.8 L1247.7,751.4 L1248.8,753.1 L1249.9,754.8 L1251.0,756.5 L1252.1,758.2 L1253.2,759.9 L1254.3,761.5 L1255.4,763.2 L1256.5,764.9 L1257.7,766.5 L1258.8,768.2 L1259.9,769.8 L1261.1,771.5 L1262.2,773.1 L1263.4,774.7 L1264.5,776.4 L1265.7,778.0 L1266.8,779.6 L1268.0,781.2 L1269.2,782.8 L1270.4,784.5 L1271.6,786.1 L1272.8,787.7 L1274.0,789.2 L1275.2,790.8 L1276.4,792.4 L1277.6,794.0 L1278.9,795.6 L1280.1,797.1 L1281.3,798.7 L1282.6,800.3 L1283.8,801.8 L1285.1,803.3 L1286.4,804.9 L1287.6,806.4 L1288.9,807.9 L1290.2,809.5 L1291.5,811.0 L1292.8,812.5 L1294.1,814.0 L1295.4,815.5 L1296.8,817.0 L1298.1,818.5 L1299.4,820.0 L1300.8,821.4 L1302.1,822.9 L1303.5,824.3 L1304.9,825.8 L1306.2,827.2 L1307.6,828.7 L1309.0,830.1 L1310.4,831.5 L1311.8,833.0 L1313.2,834.4 L1314.6,835.8 L1316.0,837.2 L1317.5,838.6 L1318.9,840.0 L1320.4,841.4 L1321.8,842.7 L1323.3,844.1 L1324.7,845.5 L1326.2,846.8 L1327.7,848.2 L1329.2,849.5 L1330.6,850.8 L1332.1,852.2 L1333.6,853.5 L1335.1,854.8 L1336.7,856.1 L1338.2,857.4 L1339.7,858.7 L1341.2,860.0 L1342.8,861.3 L1344.3,862.5 L1345.9,863.8 L1347.4,865.1 L1349.0,866.3 L1350.5,867.6 L1352.1,868.8 L1353.7,870.0 L1355.3,871.3 L1356.9,872.5 L1358.5,873.7 L1360.1,874.9 L1361.7,876.1 L1363.3,877.3 L1364.9,878.5 L1366.5,879.7 L1368.1,880.8 L1369.8,882.0 L1371.4,883.2 L1373.0,884.3 L1374.7,885.5 L1376.3,886.6 L1378.0,887.7 L1379.7,888.8 L1381.3,890.0 L1383.0,891.1 L1384.7,892.2 L1386.4,893.3 L1388.0,894.4 L1389.7,895.4 L1391.4,896.5 L1393.1,897.6 L1394.8,898.6 L1396.5,899.7 L1398.2,900.7 L1400.0,901.8 L1401.7,902.8 L1403.4,903.8 L1405.1,904.8 L1406.9,905.9 L1408.6,906.9 L1410.3,907.9 L1412.1,908.8 L1413.8,909.8 L1415.6,910.8 L1417.3,911.8 L1419.1,912.7 L1420.9,913.7 L1422.6,914.6 L1424.4,915.6 L1426.2,916.5 L1427.9,917.4 L1429.7,918.3 L1431.5,919.2 L1433.3,920.1 L1435.1,921.0 L1436.9,921.9 L1438.7,922.8 L1440.5,923.7 L1442.3,924.6 L1444.1,925.4 L1445.9,926.3 L1447.7,927.1 L1449.5,928.0 L1451.3,928.8 L1453.2,929.7 L1455.0,930.5 L1456.8,931.3 L1458.6,932.1 L1460.5,933.0 L1462.3,933.8 L1464.1,934.6 L1466.0,935.4 L1467.8,936.2 L1469.6,937.0 L1471.5,937.8 L1473.3,938.5 L1475.2,939.3 L1477.0,940.1 L1478.9,940.9 L1480.7,941.7 L1482.5,942.4 L1484.4,943.2 L1486.3,944.0 L1488.1,944.7 L1490.0,945.5 L1491.8,946.2 L1493.7,947.0 L1495.5,947.8 L1497.4,948.5 L1499.2,949.3 L1501.1,950.0 L1503.0,950.7 L1504.8,951.5 L1506.7,952.2 L1508.6,953.0 L1510.4,953.7 L1512.3,954.5 L1514.1,955.2 L1516.0,955.9 L1517.9,956.7 L1519.7,957.4 L1521.6,958.1 L1523.5,958.9 L1525.3,959.6 L1527.2,960.3 L1529.0,961.1 L1530.9,961.8 L1532.8,962.6 L1534.6,963.3 L1536.5,964.0 L1538.4,964.8 L1540.2,965.5 L1542.1,966.2 L1543.9,967.0 L1545.8,967.7 L1547.7,968.5 L1549.5,969.2 L1551.4,969.9 L1553.2,970.7 L1555.1,971.4 L1557.0,972.2 L1558.8,972.9 L1560.7,973.6 L1562.5,974.4 L1564.4,975.1 L1566.3,975.8 L1568.1,976.6 L1570.0,977.3 L1571.8,978.1 L1573.7,978.8 L1575.6,979.5 L1577.4,980.3 L1579.3,981.0 L1581.1,981.7 L1583.0,982.5 L1584.9,983.2 L1586.7,983.9 L1588.6,984.7 L1590.4,985.4 L1592.3,986.2 L1594.2,986.9 L1596.0,987.6 L1597.9,988.4 L1599.8,989.1 L1601.6,989.8 L1603.5,990.6 L1605.4,991.3 L1607.2,992.0 L1609.1,992.8 L1610.9,993.5 L1612.8,994.2 L1614.7,995.0 L1616.5,995.7 L1618.4,996.4 L1620.3,997.1 L1622.2,997.9 L1624.0,998.6 L1625.9,999.3 L1627.8,1000.0 L1629.6,1000.7 L1631.5,1001.4 L1633.4,1002.1 L1635.3,1002.8 L1637.2,1003.5 L1639.0,1004.2 L1640.9,1004.9 L1642.8,1005.5 L1644.7,1006.2 L1646.6,1006.8 L1648.5,1007.4 L1650.4,1008.0 L1652.3,1008.6 L1654.2,1009.2 L1656.1,1009.8 L1658.0,1010.4 L1660.0,1010.9 L1661.9,1011.4 L1663.8,1011.9 L1665.7,1012.4 L1667.7,1012.9 L1669.6,1013.4 L1671.6,1013.8 L1673.5,1014.2 L1675.5,1014.6 L1677.4,1015.0 L1679.4,1015.3" fill="none" stroke="#26507D" stroke-width="9.5" stroke-linejoin="round" stroke-linecap="butt" shape-rendering="crispEdges"/>
<path d="M198.5,122.3 L200.5,122.3 L202.5,122.4 L204.5,122.4 L206.5,122.5 L208.5,122.5 L210.5,122.5 L212.5,122.6 L214.5,122.6 L216.5,122.6 L218.5,122.7 L220.5,122.7 L222.5,122.7 L224.5,122.8 L226.5,122.8 L228.5,122.8 L230.5,122.8 L232.5,122.8 L234.5,122.9 L236.5,122.9 L238.5,122.9 L240.5,122.9 L242.5,122.9 L244.5,122.9 L246.5,122.9 L248.5,122.9 L250.5,122.9 L252.5,122.9 L254.5,122.9 L256.5,122.9 L258.5,122.9 L260.5,122.9 L262.5,122.9 L264.5,122.9 L266.5,122.9 L268.5,122.9 L270.5,122.9 L272.5,122.9 L274.5,122.9 L276.5,122.9 L278.6,122.9 L280.6,122.9 L282.6,122.9 L284.6,122.9 L286.6,122.8 L288.6,122.8 L290.6,122.8 L292.6,122.8 L294.6,122.8 L296.6,122.8 L298.6,122.8 L300.6,122.8 L302.6,122.8 L304.6,122.7 L306.6,122.7 L308.6,122.7 L310.6,122.7 L312.6,122.7 L314.6,122.7 L316.6,122.7 L318.7,122.7 L320.7,122.7 L322.7,122.7 L324.7,122.6 L326.7,122.6 L328.7,122.6 L330.7,122.6 L332.7,122.6 L334.7,122.6 L336.7,122.6 L338.7,122.6 L340.7,122.6 L342.7,122.6 L344.7,122.6 L346.7,122.6 L348.7,122.6 L350.7,122.6 L352.7,122.6 L354.7,122.6 L356.7,122.6 L358.8,122.6 L360.8,122.7 L362.8,122.7 L364.8,122.7 L366.8,122.7 L368.8,122.7 L370.8,122.7 L372.8,122.7 L374.8,122.8 L376.8,122.8 L378.8,122.8 L380.8,122.8 L382.8,122.9 L384.8,122.9 L386.8,122.9 L388.8,123.0 L390.8,123.0 L392.8,123.0 L394.8,123.1 L396.8,123.1 L398.8,123.2 L400.8,123.2 L402.8,123.3 L404.8,123.3 L406.8,123.4 L408.8,123.5 L410.8,123.5 L412.8,123.6 L414.8,123.6 L416.8,123.7 L418.8,123.8 L420.8,123.9 L422.8,123.9 L424.8,124.0 L426.8,124.1 L428.8,124.2 L430.8,124.3 L432.8,124.4 L434.8,124.5 L436.8,124.6 L438.8,124.7 L440.8,124.8 L442.8,124.9 L444.8,125.0 L446.8,125.1 L448.8,125.3 L450.8,125.4 L452.8,125.5 L454.8,125.6 L456.8,125.8 L458.8,125.9 L460.8,126.1 L462.7,126.2 L464.7,126.4 L466.7,126.5 L468.7,126.7 L470.7,126.8 L472.7,127.0 L474.7,127.2 L476.7,127.3 L478.7,127.5 L480.7,127.7 L482.7,127.8 L484.7,128.0 L486.6,128.2 L488.6,128.4 L490.6,128.6 L492.6,128.8 L494.6,128.9 L496.6,129.1 L498.6,129.3 L500.6,129.5 L502.6,129.7 L504.6,129.9 L506.5,130.1 L508.5,130.3 L510.5,130.5 L512.5,130.7 L514.5,130.9 L516.5,131.2 L518.5,131.4 L520.5,131.6 L522.5,131.8 L524.4,132.0 L526.4,132.2 L528.4,132.4 L530.4,132.7 L532.4,132.9 L534.4,133.1 L536.4,133.3 L538.4,133.6 L540.4,133.8 L542.3,134.0 L544.3,134.2 L546.3,134.5 L548.3,134.7 L550.3,134.9 L552.3,135.1 L554.3,135.4 L556.3,135.6 L558.3,135.8 L560.2,136.0 L562.2,136.3 L564.2,136.5 L566.2,136.7 L568.2,136.9 L570.2,137.2 L572.2,137.4 L574.2,137.6 L576.2,137.9 L578.2,138.1 L580.2,138.3 L582.1,138.5 L584.1,138.7 L586.1,139.0 L588.1,139.2 L590.1,139.4 L592.1,139.6 L594.1,139.8 L596.1,140.1 L598.1,140.3 L600.1,140.5 L602.1,140.7 L604.1,140.9 L606.1,141.1 L608.1,141.3 L610.0,141.5 L612.0,141.8 L614.0,142.0 L616.0,142.2 L618.0,142.4 L620.0,142.6 L622.0,142.8 L624.0,143.0 L626.0,143.1 L628.0,143.3 L630.0,143.5 L632.0,143.7 L634.0,143.9 L636.0,144.1 L638.0,144.3 L640.0,144.4 L642.0,144.6 L644.0,144.8 L646.0,144.9 L648.0,145.1 L650.0,145.3 L652.0,145.4 L654.0,145.6 L656.0,145.7 L658.0,145.9 L660.0,146.0 L662.0,146.2 L664.1,146.4 L666.1,146.5 L668.1,146.7 L670.1,146.8 L672.1,147.0 L674.1,147.2 L676.1,147.3 L678.1,147.5 L680.1,147.7 L682.0,147.9 L684.0,148.1 L686.0,148.3 L688.0,148.5 L690.0,148.7 L692.0,148.9 L694.0,149.2 L696.0,149.4 L697.9,149.7 L699.9,149.9 L701.9,150.2 L703.9,150.5 L705.8,150.8 L707.8,151.1 L709.7,151.5 L711.7,151.8 L713.7,152.2 L715.6,152.6 L717.6,153.0 L719.5,153.4 L721.4,153.9 L723.4,154.3 L725.3,154.8 L727.2,155.3 L729.1,155.8 L731.1,156.3 L733.0,156.9 L734.9,157.5 L736.8,158.1 L738.7,158.7 L740.6,159.4 L742.4,160.1 L744.3,160.8 L746.2,161.5 L748.1,162.2 L749.9,163.0 L751.8,163.8 L753.6,164.7 L755.4,165.5 L757.2,166.4 L759.0,167.3 L760.8,168.2 L762.6,169.2 L764.4,170.2 L766.1,171.2 L767.8,172.2 L769.5,173.3 L771.2,174.4 L772.9,175.5 L774.5,176.6 L776.2,177.8 L777.8,179.0 L779.3,180.2 L780.9,181.5 L782.4,182.8 L783.9,184.1 L785.4,185.4 L786.8,186.8 L788.3,188.2 L789.7,189.6 L791.0,191.0 L792.4,192.5 L793.7,193.9 L795.0,195.4 L796.2,197.0 L797.5,198.5 L798.7,200.1 L799.9,201.7 L801.1,203.3 L802.2,204.9 L803.4,206.5 L804.5,208.2 L805.6,209.8 L806.6,211.5 L807.7,213.2 L808.7,215.0 L809.7,216.7 L810.7,218.4 L811.7,220.2 L812.6,221.9 L813.5,223.7 L814.4,225.5 L815.3,227.3 L816.2,229.1 L817.0,230.9 L817.9,232.7 L818.7,234.6 L819.5,236.4 L820.3,238.2 L821.1,240.1 L821.8,241.9 L822.6,243.8 L823.3,245.6 L824.0,247.5 L824.7,249.4 L825.4,251.2 L826.1,253.1 L826.7,255.0 L827.4,256.9 L828.0,258.8 L828.6,260.6 L829.3,262.5 L829.9,264.4 L830.5,266.3 L831.1,268.2 L831.7,270.1 L832.2,272.0 L832.8,273.9 L833.4,275.8 L833.9,277.8 L834.5,279.7 L835.0,281.6 L835.6,283.5 L836.1,285.4 L836.7,287.4 L837.2,289.3 L837.8,291.2 L838.3,293.1 L838.8,295.1 L839.4,297.0 L839.9,298.9 L840.5,300.9 L841.0,302.8 L841.5,304.7 L842.1,306.7 L842.6,308.6 L843.2,310.5 L843.7,312.5 L844.3,314.4 L844.9,316.3 L845.4,318.3 L846.0,320.2 L846.6,322.2 L847.1,324.1 L847.7,326.0 L848.3,328.0 L848.9,329.9 L849.5,331.8 L850.1,333.8 L850.7,335.7 L851.3,337.6 L851.9,339.5 L852.5,341.5 L853.1,343.4 L853.7,345.3 L854.4,347.2 L855.0,349.1 L855.7,351.0 L856.3,352.9 L857.0,354.8 L857.7,356.7 L858.3,358.6 L859.0,360.5 L859.7,362.4 L860.4,364.3 L861.1,366.2 L861.9,368.0 L862.6,369.9 L863.3,371.8 L864.1,373.6 L864.8,375.5 L865.6,377.3 L866.4,379.2 L867.2,381.0 L868.0,382.8 L868.8,384.7 L869.6,386.5 L870.4,388.3 L871.3,390.1 L872.1,391.9 L873.0,393.7 L873.9,395.5 L874.8,397.2 L875.7,399.0 L876.6,400.8 L877.5,402.5 L878.5,404.3 L879.4,406.0 L880.4,407.8 L881.4,409.5 L882.4,411.2 L883.4,412.9 L884.4,414.6 L885.4,416.3 L886.5,418.0 L887.6,419.6 L888.6,421.3 L889.7,423.0 L890.8,424.6 L892.0,426.2 L893.1,427.9 L894.3,429.5 L895.5,431.1 L896.7,432.7 L897.9,434.2 L899.1,435.8 L900.3,437.4 L901.6,438.9 L902.9,440.5 L904.2,442.0 L905.5,443.5 L906.8,445.0 L908.2,446.5 L909.5,448.0 L910.9,449.4 L912.3,450.9 L913.7,452.3 L915.1,453.7 L916.6,455.1 L918.0,456.5 L919.5,457.9 L921.0,459.3 L922.5,460.6 L924.0,462.0 L925.5,463.3 L927.0,464.6 L928.6,465.9 L930.1,467.2 L931.7,468.5 L933.3,469.7 L934.9,471.0 L936.5,472.2 L938.1,473.4 L939.7,474.6 L941.3,475.8 L943.0,476.9 L944.6,478.1 L946.3,479.2 L948.0,480.3 L949.7,481.4 L951.4,482.4 L953.1,483.5 L954.8,484.5 L956.5,485.6 L958.2,486.6 L959.9,487.6 L961.7,488.5 L963.4,489.5 L965.2,490.5 L966.9,491.4 L968.7,492.4 L970.4,493.3 L972.2,494.2 L974.0,495.1 L975.8,496.1 L977.5,497.0 L979.3,497.9 L981.1,498.8 L982.9,499.7 L984.7,500.6 L986.4,501.5 L988.2,502.4 L990.0,503.3 L991.8,504.2 L993.6,505.1 L995.4,506.0 L997.2,506.9 L998.9,507.8 L1000.7,508.7 L1002.5,509.7 L1004.3,510.6 L1006.0,511.5 L1007.8,512.5 L1009.6,513.5 L1011.3,514.4 L1013.1,515.4 L1014.8,516.4 L1016.6,517.4 L1018.3,518.4 L1020.1,519.4 L1021.8,520.4 L1023.5,521.4 L1025.3,522.5 L1027.0,523.5 L1028.7,524.6 L1030.4,525.6 L1032.1,526.7 L1033.8,527.8 L1035.5,528.9 L1037.2,530.0 L1038.8,531.1 L1040.5,532.2 L1042.2,533.3 L1043.8,534.5 L1045.5,535.6 L1047.1,536.8 L1048.7,537.9 L1050.3,539.1 L1052.0,540.3 L1053.6,541.5 L1055.1,542.7 L1056.7,543.9 L1058.3,545.2 L1059.9,546.4 L1061.4,547.7 L1063.0,548.9 L1064.5,550.2 L1066.0,551.5 L1067.6,552.8 L1069.1,554.1 L1070.6,555.4 L1072.0,556.8 L1073.5,558.1 L1075.0,559.5 L1076.4,560.9 L1077.9,562.3 L1079.3,563.7 L1080.7,565.1 L1082.1,566.5 L1083.5,568.0 L1084.8,569.4 L1086.2,570.9 L1087.5,572.4 L1088.9,573.9 L1090.2,575.4 L1091.5,576.9 L1092.8,578.4 L1094.1,579.9 L1095.3,581.5 L1096.6,583.1 L1097.8,584.6 L1099.0,586.2 L1100.2,587.8 L1101.4,589.4 L1102.6,591.1 L1103.7,592.7 L1104.9,594.3 L1106.0,596.0 L1107.1,597.7 L1108.2,599.4 L1109.2,601.0 L1110.3,602.7 L1111.3,604.5 L1112.3,606.2 L1113.3,607.9 L1114.3,609.6 L1115.2,611.4 L1116.2,613.2 L1117.1,614.9 L1118.0,616.7 L1118.9,618.5 L1119.8,620.3 L1120.6,622.1 L1121.5,623.9 L1122.3,625.7 L1123.1,627.6 L1124.0,629.4 L1124.8,631.2 L1125.6,633.1 L1126.4,634.9 L1127.1,636.8 L1127.9,638.6 L1128.7,640.5 L1129.5,642.3 L1130.2,644.2 L1131.0,646.0 L1131.8,647.9 L1132.5,649.7 L1133.3,651.6 L1134.1,653.4 L1134.8,655.3 L1135.6,657.2 L1136.4,659.0 L1137.2,660.9 L1137.9,662.7 L1138.7,664.6 L1139.4,666.4 L1140.2,668.3 L1141.0,670.1 L1141.7,672.0 L1142.4,673.9 L1143.2,675.7 L1143.9,677.6 L1144.6,679.5 L1145.4,681.3 L1146.1,683.2 L1146.8,685.1 L1147.5,687.0 L1148.2,688.8 L1148.9,690.7 L1149.6,692.6 L1150.2,694.5 L1150.9,696.4 L1151.6,698.3 L1152.2,700.1 L1152.9,702.0 L1153.5,703.9 L1154.2,705.8 L1154.8,707.7 L1155.4,709.6 L1156.1,711.5 L1156.7,713.4 L1157.3,715.3 L1158.0,717.2 L1158.6,719.1 L1159.2,721.0 L1159.8,722.9 L1160.4,724.8 L1161.0,726.8 L1161.6,728.7 L1162.2,730.6 L1162.8,732.5 L1163.4,734.4 L1164.0,736.3 L1164.6,738.2 L1165.2,740.1 L1165.8,742.0 L1166.4,743.9 L1167.0,745.9 L1167.6,747.8 L1168.2,749.7 L1168.8,751.6 L1169.4,753.5 L1170.0,755.4 L1170.6,757.3 L1171.2,759.2 L1171.8,761.2 L1172.4,763.1 L1173.0,765.0 L1173.6,766.9 L1174.2,768.8 L1174.8,770.7 L1175.4,772.6 L1176.0,774.5 L1176.6,776.4 L1177.3,778.3 L1177.9,780.2 L1178.5,782.1 L1179.1,784.0 L1179.8,785.9 L1180.4,787.8 L1181.0,789.7 L1181.7,791.6 L1182.3,793.5 L1183.0,795.4 L1183.7,797.3 L1184.3,799.2 L1185.0,801.1 L1185.7,803.0 L1186.4,804.8 L1187.0,806.7 L1187.7,808.6 L1188.4,810.5 L1189.2,812.4 L1189.9,814.2 L1190.6,816.1 L1191.3,818.0 L1192.1,819.8 L1192.8,821.7 L1193.6,823.6 L1194.3,825.4 L1195.1,827.3 L1195.9,829.1 L1196.6,831.0 L1197.4,832.8 L1198.2,834.6 L1199.0,836.5 L1199.9,838.3 L1200.7,840.2 L1201.5,842.0 L1202.3,843.8 L1203.2,845.6 L1204.0,847.4 L1204.9,849.2 L1205.8,851.1 L1206.7,852.9 L1207.5,854.7 L1208.4,856.4 L1209.3,858.2 L1210.3,860.0 L1211.2,861.8 L1212.1,863.6 L1213.0,865.3 L1214.0,867.1 L1214.9,868.9 L1215.9,870.6 L1216.9,872.4 L1217.9,874.1 L1218.9,875.8 L1219.9,877.6 L1220.9,879.3 L1221.9,881.0 L1222.9,882.7 L1223.9,884.4 L1225.0,886.1 L1226.0,887.8 L1227.1,889.5 L1228.2,891.2 L1229.3,892.9 L1230.4,894.6 L1231.5,896.2 L1232.6,897.9 L1233.7,899.5 L1234.8,901.2 L1236.0,902.8 L1237.1,904.4 L1238.3,906.0 L1239.5,907.6 L1240.6,909.2 L1241.8,910.8 L1243.0,912.4 L1244.2,914.0 L1245.5,915.6 L1246.7,917.1 L1247.9,918.7 L1249.2,920.2 L1250.4,921.8 L1251.7,923.3 L1253.0,924.8 L1254.3,926.4 L1255.6,927.9 L1256.9,929.3 L1258.3,930.8 L1259.6,932.3 L1260.9,933.8 L1262.3,935.2 L1263.7,936.7 L1265.1,938.1 L1266.4,939.6 L1267.8,941.0 L1269.3,942.4 L1270.7,943.8 L1272.1,945.2 L1273.6,946.5 L1275.0,947.9 L1276.5,949.3 L1278.0,950.6 L1279.5,952.0 L1281.0,953.3 L1282.5,954.6 L1284.0,955.9 L1285.6,957.2 L1287.1,958.5 L1288.7,959.8 L1290.2,961.0 L1291.8,962.3 L1293.4,963.5 L1295.0,964.8 L1296.6,966.0 L1298.2,967.2 L1299.8,968.4 L1301.4,969.6 L1303.1,970.8 L1304.7,972.0 L1306.4,973.2 L1308.0,974.3 L1309.7,975.5 L1311.4,976.6 L1313.1,977.7 L1314.7,978.8 L1316.4,979.9 L1318.1,981.0 L1319.8,982.1 L1321.5,983.2 L1323.3,984.3 L1325.0,985.3 L1326.7,986.4 L1328.5,987.4 L1330.2,988.4 L1331.9,989.4 L1333.7,990.4 L1335.4,991.4 L1337.2,992.4 L1339.0,993.4 L1340.7,994.4 L1342.5,995.3 L1344.3,996.3 L1346.0,997.2 L1347.8,998.1 L1349.6,999.0 L1351.4,1000.0 L1353.2,1000.9 L1355.0,1001.7 L1356.8,1002.6 L1358.6,1003.5 L1360.4,1004.4 L1362.2,1005.2 L1364.0,1006.1 L1365.8,1006.9 L1367.6,1007.8 L1369.4,1008.6 L1371.2,1009.4 L1373.0,1010.2 L1374.9,1011.0 L1376.7,1011.8 L1378.5,1012.6 L1380.3,1013.4 L1382.2,1014.2 L1384.0,1015.0 L1385.8,1015.8 L1387.6,1016.6 L1389.5,1017.3 L1391.3,1018.1 L1393.2,1018.9 L1395.0,1019.7 L1396.8,1020.4 L1398.7,1021.2 L1400.5,1021.9 L1402.4,1022.7 L1404.2,1023.4 L1406.0,1024.2 L1407.9,1025.0 L1409.7,1025.7 L1411.6,1026.5 L1413.4,1027.2 L1415.3,1028.0 L1417.1,1028.7 L1419.0,1029.5 L1420.8,1030.2 L1422.7,1030.9 L1424.5,1031.7 L1426.4,1032.4 L1428.2,1033.2 L1430.1,1033.9 L1431.9,1034.7 L1433.8,1035.4 L1435.7,1036.2 L1437.5,1036.9 L1439.4,1037.7 L1441.2,1038.4 L1443.1,1039.1 L1444.9,1039.9 L1446.8,1040.6 L1448.7,1041.4 L1450.5,1042.1 L1452.4,1042.8 L1454.2,1043.6 L1456.1,1044.3 L1458.0,1045.1 L1459.8,1045.8 L1461.7,1046.5 L1463.6,1047.3 L1465.4,1048.0 L1467.3,1048.7 L1469.1,1049.5 L1471.0,1050.2 L1472.9,1050.9 L1474.7,1051.7 L1476.6,1052.4 L1478.5,1053.1 L1480.3,1053.9 L1482.2,1054.6 L1484.1,1055.3 L1486.0,1056.0 L1487.8,1056.8 L1489.7,1057.5 L1491.6,1058.2 L1493.4,1058.9 L1495.3,1059.7 L1497.2,1060.4 L1499.0,1061.1 L1500.9,1061.8 L1502.8,1062.6 L1504.7,1063.3 L1506.5,1064.0 L1508.4,1064.7 L1510.3,1065.4 L1512.2,1066.1 L1514.0,1066.9 L1515.9,1067.6 L1517.8,1068.3 L1519.6,1069.0 L1521.5,1069.7 L1523.4,1070.4 L1525.3,1071.1 L1527.1,1071.9 L1529.0,1072.6 L1530.9,1073.3 L1532.8,1074.0 L1534.7,1074.7 L1536.5,1075.4 L1538.4,1076.1 L1540.3,1076.8 L1542.2,1077.5 L1544.0,1078.2 L1545.9,1078.9 L1547.8,1079.6 L1549.7,1080.3 L1551.5,1081.0 L1553.4,1081.7 L1555.3,1082.4 L1557.2,1083.1 L1559.1,1083.8 L1560.9,1084.5 L1562.8,1085.2 L1564.7,1085.9 L1566.6,1086.6 L1568.5,1087.2 L1570.3,1087.9 L1572.2,1088.6 L1574.1,1089.3 L1576.0,1090.0 L1577.9,1090.6 L1579.7,1091.3 L1581.6,1092.0 L1583.5,1092.7 L1585.4,1093.3 L1587.3,1094.0 L1589.2,1094.7 L1591.1,1095.3 L1593.0,1096.0 L1594.8,1096.6 L1596.7,1097.3 L1598.6,1097.9 L1600.5,1098.6 L1602.4,1099.2 L1604.3,1099.8 L1606.2,1100.5 L1608.1,1101.1 L1610.0,1101.7 L1611.9,1102.3 L1613.8,1102.9 L1615.7,1103.6 L1617.6,1104.2 L1619.5,1104.8 L1621.4,1105.4 L1623.3,1106.0 L1625.2,1106.5 L1627.1,1107.1 L1629.1,1107.7 L1631.0,1108.3 L1632.9,1108.8 L1634.8,1109.4 L1636.7,1110.0 L1638.6,1110.5 L1640.6,1111.1 L1642.5,1111.6 L1644.4,1112.1 L1646.3,1112.7 L1648.3,1113.2 L1650.2,1113.7 L1652.1,1114.2 L1654.1,1114.7 L1656.0,1115.2 L1658.0,1115.7 L1659.9,1116.2 L1661.8,1116.7 L1663.8,1117.2 L1665.7,1117.6 L1667.7,1118.1 L1669.6,1118.5 L1671.6,1119.0 L1673.6,1119.4 L1675.5,1119.8 L1677.5,1120.3 L1679.4,1120.7" fill="none" stroke="#F05776" stroke-width="9.5" stroke-linejoin="round" stroke-linecap="butt" shape-rendering="crispEdges"/>
</g>
<g>
<text x="298.7" y="1293.5" text-anchor="middle" font-size="51">100</text>
<text x="496.0" y="1293.5" text-anchor="middle" font-size="51">200</text>
<text x="693.3" y="1293.5" text-anchor="middle" font-size="51">300</text>
<text x="890.7" y="1293.5" text-anchor="middle" font-size="51">400</text>
<text x="1088.0" y="1293.5" text-anchor="middle" font-size="51">500</text>
<text x="1285.3" y="1293.5" text-anchor="middle" font-size="51">600</text>
<text x="1482.7" y="1293.5" text-anchor="middle" font-size="51">700</text>
<text x="1680.0" y="1293.5" text-anchor="middle" font-size="51">800</text>
<text x="160" y="1130.7" text-anchor="end" font-size="51">50</text>
<text x="160" y="931.9" text-anchor="end" font-size="51">60</text>
<text x="160" y="733.1" text-anchor="end" font-size="51">70</text>
<text x="160" y="534.3" text-anchor="end" font-size="51">80</text>
<text x="160" y="335.5" text-anchor="end" font-size="51">90</text>
<text x="160" y="136.7" text-anchor="end" font-size="51">100</text>
<text x="939.5" y="1393" text-anchor="middle" font-size="79.4">Temperature (°C)</text>
<text transform="translate(67.5,619) rotate(-90)" text-anchor="middle" font-size="79.4">Weight (%)</text>
</g>
<g>
<line x1="254" y1="779.0" x2="420" y2="779.0" stroke="#000000" stroke-width="10" shape-rendering="crispEdges"/>
<text x="436.5" y="804.0" font-size="74">PPEK</text>
<line x1="254" y1="869.4" x2="420" y2="869.4" stroke="#FBC013" stroke-width="10" shape-rendering="crispEdges"/>
<text x="434.8" y="894.4" font-size="74">SPPEK-1</text>
<line x1="254" y1="959.8" x2="420" y2="959.8" stroke="#42BF9F" stroke-width="10" shape-rendering="crispEdges"/>
<text x="434.8" y="984.8" font-size="74">SPPEK-2</text>
<line x1="254" y1="1050.2" x2="420" y2="1050.2" stroke="#26507D" stroke-width="10" shape-rendering="crispEdges"/>
<text x="434.8" y="1075.2" font-size="74">SPPEK-3</text>
<line x1="254" y1="1140.6" x2="420" y2="1140.6" stroke="#F05776" stroke-width="10" shape-rendering="crispEdges"/>
<text x="434.8" y="1165.6" font-size="74">SPPEK-4</text>
</g>
</svg>
</body></html>
